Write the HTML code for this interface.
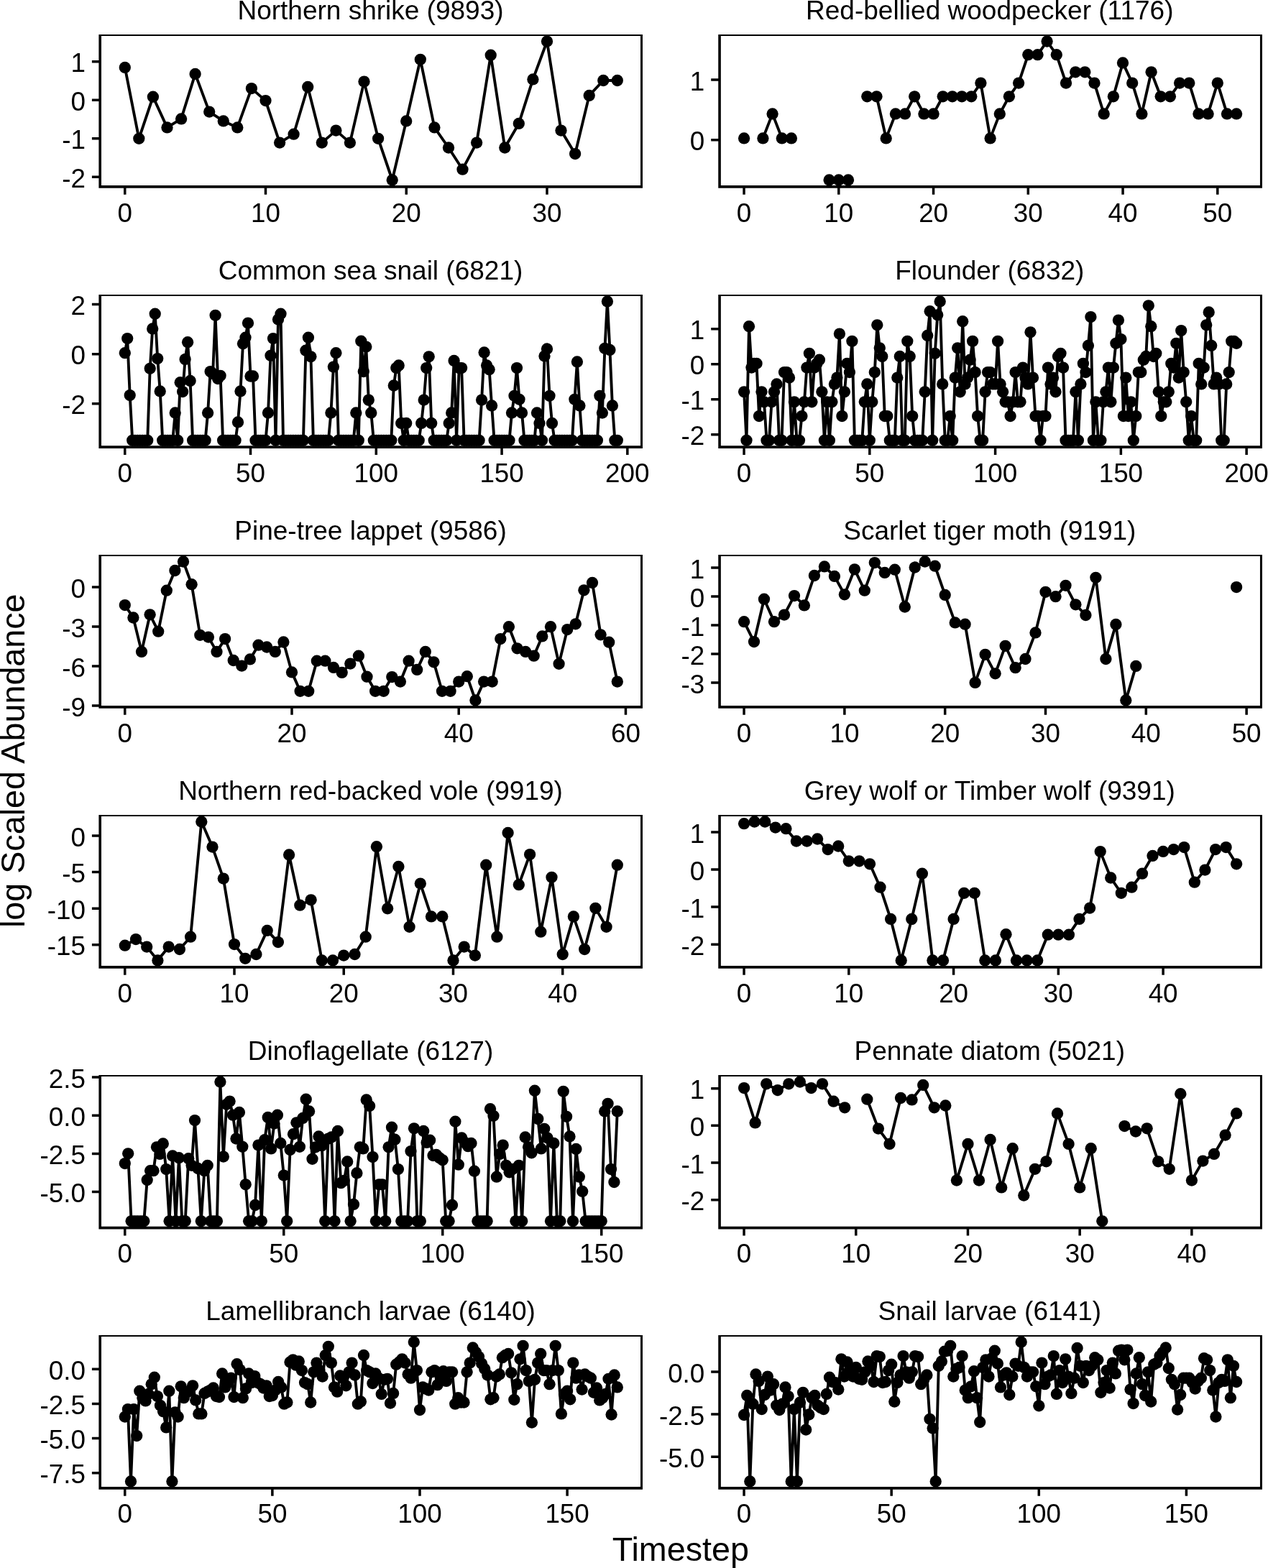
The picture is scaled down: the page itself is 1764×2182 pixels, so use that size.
<!DOCTYPE html>
<html lang="en"><head><meta charset="utf-8"><title>log Scaled Abundance by Timestep</title>
<style>
html,body{margin:0;padding:0;background:#fff;}
body{width:1764px;height:2182px;overflow:hidden;}
svg{display:block;}
text{font-family:"Liberation Sans",Arial,Helvetica,sans-serif;fill:#000;}
.tk{font-size:36.8px;}
.tt{font-size:37.0px;}
.ax{font-size:46.7px;}
.bd{fill:#000;stroke:none;fill-rule:evenodd;}
.ti{fill:none;stroke:#000;stroke-width:3.5;}
.ln{fill:none;stroke:#000;stroke-width:3.9;stroke-linejoin:round;stroke-linecap:butt;}
.pt{fill:#000;stroke:none;}
</style></head>
<body>
<svg xmlns="http://www.w3.org/2000/svg" width="1764" height="2182" viewBox="0 0 1764 2182">
<rect x="0" y="0" width="1764" height="2182" fill="#fff"/>
<g id="panel1">
<text class="tt" text-anchor="middle" x="515.5" y="26.7">Northern shrike (9893)</text>
<path class="ln" d="M173.8 93.9L193.3 192.8L212.9 134.7L232.5 177.4L252.1 165.4L271.6 102.9L291.2 155.6L310.8 168.4L330.3 177.4L349.9 123.1L369.5 140.1L389.1 198.6L408.6 186.7L428.2 121L447.8 198.6L467.4 181.6L486.9 198.6L506.5 113.6L526.1 192.8L545.7 250.5L565.2 168.4L584.8 82.8L604.4 177.4L624 205.5L643.5 235.7L663.1 198.6L682.7 76.7L702.3 205.5L721.8 171.9L741.4 110.4L761 57.5L780.5 181.6L800.1 214.1L819.7 132.9L839.3 112L858.8 112"/>
<g class="pt"><circle cx="173.8" cy="93.9" r="8.15"/><circle cx="193.3" cy="192.8" r="8.15"/><circle cx="212.9" cy="134.7" r="8.15"/><circle cx="232.5" cy="177.4" r="8.15"/><circle cx="252.1" cy="165.4" r="8.15"/><circle cx="271.6" cy="102.9" r="8.15"/><circle cx="291.2" cy="155.6" r="8.15"/><circle cx="310.8" cy="168.4" r="8.15"/><circle cx="330.3" cy="177.4" r="8.15"/><circle cx="349.9" cy="123.1" r="8.15"/><circle cx="369.5" cy="140.1" r="8.15"/><circle cx="389.1" cy="198.6" r="8.15"/><circle cx="408.6" cy="186.7" r="8.15"/><circle cx="428.2" cy="121" r="8.15"/><circle cx="447.8" cy="198.6" r="8.15"/><circle cx="467.4" cy="181.6" r="8.15"/><circle cx="486.9" cy="198.6" r="8.15"/><circle cx="506.5" cy="113.6" r="8.15"/><circle cx="526.1" cy="192.8" r="8.15"/><circle cx="545.7" cy="250.5" r="8.15"/><circle cx="565.2" cy="168.4" r="8.15"/><circle cx="584.8" cy="82.8" r="8.15"/><circle cx="604.4" cy="177.4" r="8.15"/><circle cx="624" cy="205.5" r="8.15"/><circle cx="643.5" cy="235.7" r="8.15"/><circle cx="663.1" cy="198.6" r="8.15"/><circle cx="682.7" cy="76.7" r="8.15"/><circle cx="702.3" cy="205.5" r="8.15"/><circle cx="721.8" cy="171.9" r="8.15"/><circle cx="741.4" cy="110.4" r="8.15"/><circle cx="761" cy="57.5" r="8.15"/><circle cx="780.5" cy="181.6" r="8.15"/><circle cx="800.1" cy="214.1" r="8.15"/><circle cx="819.7" cy="132.9" r="8.15"/><circle cx="839.3" cy="112" r="8.15"/><circle cx="858.8" cy="112" r="8.15"/></g>
<path class="bd" d="M137.4 48H894V261.7H137.4ZM141 50.1V258H891V50.1Z"/>
<path class="ti" d="M173.75 260.2V270.8M369.49 260.2V270.8M565.24 260.2V270.8M760.98 260.2V270.8M139.5 85.8H127.9M139.5 139.25H127.9M139.5 192.7H127.9M139.5 246.15H127.9"/>
<text class="tk" text-anchor="middle" x="173.8" y="308.7">0</text><text class="tk" text-anchor="middle" x="369.5" y="308.7">10</text><text class="tk" text-anchor="middle" x="565.2" y="308.7">20</text><text class="tk" text-anchor="middle" x="761" y="308.7">30</text>
<text class="tk" text-anchor="end" x="119" y="100.4">1</text><text class="tk" text-anchor="end" x="119" y="153.8">0</text><text class="tk" text-anchor="end" x="119" y="207.3">-1</text><text class="tk" text-anchor="end" x="119" y="260.8">-2</text>
</g>
<g id="panel2">
<text class="tt" text-anchor="middle" x="1376.8" y="26.7">Red-bellied woodpecker (1176)</text>
<path class="ln" d="M1035.1 192.4M1061.4 192.4L1074.6 158.4L1087.8 192.4L1100.9 192.4M1153.6 250.5L1166.8 250.5L1180 250.5M1206.3 134.3L1219.5 134.3L1232.7 192.4L1245.9 158.4L1259 158.4L1272.2 134.3L1285.4 158.4L1298.6 158.4L1311.7 134.3L1324.9 134.3L1338.1 134.3L1351.3 134.3L1364.4 115.6L1377.6 192.4L1390.8 158.4L1403.9 134.3L1417.1 115.6L1430.3 76.2L1443.5 76.2L1456.6 57.5L1469.8 76.2L1483 115.6L1496.2 100.3L1509.3 100.3L1522.5 115.6L1535.7 158.4L1548.9 134.3L1562 87.4L1575.2 115.6L1588.4 158.4L1601.6 100.3L1614.7 134.3L1627.9 134.3L1641.1 115.6L1654.3 115.6L1667.4 158.4L1680.6 158.4L1693.8 115.6L1707 158.4L1720.1 158.4"/>
<g class="pt"><circle cx="1035.1" cy="192.4" r="8.15"/><circle cx="1061.4" cy="192.4" r="8.15"/><circle cx="1074.6" cy="158.4" r="8.15"/><circle cx="1087.8" cy="192.4" r="8.15"/><circle cx="1100.9" cy="192.4" r="8.15"/><circle cx="1153.6" cy="250.5" r="8.15"/><circle cx="1166.8" cy="250.5" r="8.15"/><circle cx="1180" cy="250.5" r="8.15"/><circle cx="1206.3" cy="134.3" r="8.15"/><circle cx="1219.5" cy="134.3" r="8.15"/><circle cx="1232.7" cy="192.4" r="8.15"/><circle cx="1245.9" cy="158.4" r="8.15"/><circle cx="1259" cy="158.4" r="8.15"/><circle cx="1272.2" cy="134.3" r="8.15"/><circle cx="1285.4" cy="158.4" r="8.15"/><circle cx="1298.6" cy="158.4" r="8.15"/><circle cx="1311.7" cy="134.3" r="8.15"/><circle cx="1324.9" cy="134.3" r="8.15"/><circle cx="1338.1" cy="134.3" r="8.15"/><circle cx="1351.3" cy="134.3" r="8.15"/><circle cx="1364.4" cy="115.6" r="8.15"/><circle cx="1377.6" cy="192.4" r="8.15"/><circle cx="1390.8" cy="158.4" r="8.15"/><circle cx="1403.9" cy="134.3" r="8.15"/><circle cx="1417.1" cy="115.6" r="8.15"/><circle cx="1430.3" cy="76.2" r="8.15"/><circle cx="1443.5" cy="76.2" r="8.15"/><circle cx="1456.6" cy="57.5" r="8.15"/><circle cx="1469.8" cy="76.2" r="8.15"/><circle cx="1483" cy="115.6" r="8.15"/><circle cx="1496.2" cy="100.3" r="8.15"/><circle cx="1509.3" cy="100.3" r="8.15"/><circle cx="1522.5" cy="115.6" r="8.15"/><circle cx="1535.7" cy="158.4" r="8.15"/><circle cx="1548.9" cy="134.3" r="8.15"/><circle cx="1562" cy="87.4" r="8.15"/><circle cx="1575.2" cy="115.6" r="8.15"/><circle cx="1588.4" cy="158.4" r="8.15"/><circle cx="1601.6" cy="100.3" r="8.15"/><circle cx="1614.7" cy="134.3" r="8.15"/><circle cx="1627.9" cy="134.3" r="8.15"/><circle cx="1641.1" cy="115.6" r="8.15"/><circle cx="1654.3" cy="115.6" r="8.15"/><circle cx="1667.4" cy="158.4" r="8.15"/><circle cx="1680.6" cy="158.4" r="8.15"/><circle cx="1693.8" cy="115.6" r="8.15"/><circle cx="1707" cy="158.4" r="8.15"/><circle cx="1720.1" cy="158.4" r="8.15"/></g>
<path class="bd" d="M999.25 48H1755.95V261.7H999.25ZM1002.85 50.1V258H1752.95V50.1Z"/>
<path class="ti" d="M1035.05 260.2V270.8M1166.8 260.2V270.8M1298.55 260.2V270.8M1430.3 260.2V270.8M1562.05 260.2V270.8M1693.8 260.2V270.8M1000.8 110.9H989.2M1000.8 194.8H989.2"/>
<text class="tk" text-anchor="middle" x="1035.1" y="308.7">0</text><text class="tk" text-anchor="middle" x="1166.8" y="308.7">10</text><text class="tk" text-anchor="middle" x="1298.6" y="308.7">20</text><text class="tk" text-anchor="middle" x="1430.3" y="308.7">30</text><text class="tk" text-anchor="middle" x="1562" y="308.7">40</text><text class="tk" text-anchor="middle" x="1693.8" y="308.7">50</text>
<text class="tk" text-anchor="end" x="980.3" y="125.5">1</text><text class="tk" text-anchor="end" x="980.3" y="209.4">0</text>
</g>
<g id="panel3">
<text class="tt" text-anchor="middle" x="515.5" y="388.7">Common sea snail (6821)</text>
<path class="ln" d="M173.8 491.2L177.2 471.1L180.7 550.1L184.2 612.8L187.7 612.8L191.2 612.8L194.7 612.8L198.2 612.8L201.7 612.8L205.2 612.8L208.7 512.8L212.2 457.5L215.7 436.7L219.2 499.1L222.7 544.4L226.2 612.8L229.7 612.8L233.2 612.8L236.7 612.8L240.2 612.8L243.7 574.5L247.2 612.8L250.7 532.2L254.1 545.1L257.6 499.9L261.1 476.2L264.6 530L268.1 612.8L271.6 612.8L275.1 612.8L278.6 612.8L282.1 612.8L285.6 612.8L289.1 574.5L292.6 517.1L296.1 520L299.6 438.8L303.1 527.1L306.6 522.8L310.1 612.8L313.6 612.8L317.1 612.8L320.6 612.8L324.1 612.8L327.6 612.8L331 587.4L334.5 544.4L338 478.3L341.5 469.7L345 449.6L348.5 523.5L352 523.5L355.5 612.8L359 612.8L362.5 612.8L366 612.8L369.5 612.8L373 574.5L376.5 494.8L380 471.1L383.5 612.8L387 444.6L390.5 436.7L394 612.8L397.5 612.8L401 612.8L404.4 612.8L407.9 612.8L411.4 612.8L414.9 612.8L418.4 612.8L421.9 612.8L425.4 487.7L428.9 469.7L432.4 496.3L435.9 612.8L439.4 612.8L442.9 612.8L446.4 612.8L449.9 612.8L453.4 612.8L456.9 612.8L460.4 574.5L463.9 510.6L467.4 491.2L470.9 612.8L474.4 612.8L477.9 612.8L481.3 612.8L484.8 612.8L488.3 612.8L491.8 612.8L495.3 574.5L498.8 612.8L502.3 474.7L505.8 517.1L509.3 482.6L512.8 556.6L516.3 574.5L519.8 612.8L523.3 612.8L526.8 612.8L530.3 612.8L533.8 612.8L537.3 612.8L540.8 612.8L544.3 612.8L547.8 536.5L551.3 512.1L554.7 508.5L558.2 588.9L561.7 612.8L565.2 588.9L568.7 612.8L572.2 612.8L575.7 612.8L579.2 612.8L582.7 612.8L586.2 588.9L589.7 556.6L593.2 512.1L596.7 496.3L600.2 588.9L603.7 612.8L607.2 612.8L610.7 612.8L614.2 612.8L617.7 612.8L621.2 612.8L624.7 588.9L628.2 574.5L631.6 502L635.1 612.8L638.6 512.1L642.1 512.1L645.6 612.8L649.1 612.8L652.6 612.8L656.1 612.8L659.6 612.8L663.1 612.8L666.6 612.8L670.1 556.6L673.6 490.5L677.1 508.5L680.6 514.2L684.1 564.5L687.6 612.8L691.1 612.8L694.6 612.8L698.1 612.8L701.6 612.8L705 612.8L708.5 612.8L712 574.5L715.5 550.8L719 512.1L722.5 555.8L726 574.5L729.5 612.8L733 612.8L736.5 612.8L740 612.8L743.5 612.8L747 574.5L750.5 588.9L754 612.8L757.5 495.6L761 485.5L764.5 550.8L768 588.9L771.5 612.8L775 612.8L778.5 612.8L781.9 612.8L785.4 612.8L788.9 612.8L792.4 612.8L795.9 612.8L799.4 555.8L802.9 503.4L806.4 564.5L809.9 612.8L813.4 612.8L816.9 612.8L820.4 612.8L823.9 612.8L827.4 612.8L830.9 612.8L834.4 550.8L837.9 574.5L841.4 484.8L844.9 419.5L848.4 486.9L851.9 564.5L855.4 612.8L858.8 612.8"/>
<g class="pt"><circle cx="173.8" cy="491.2" r="8.15"/><circle cx="177.2" cy="471.1" r="8.15"/><circle cx="180.7" cy="550.1" r="8.15"/><circle cx="184.2" cy="612.8" r="8.15"/><circle cx="187.7" cy="612.8" r="8.15"/><circle cx="191.2" cy="612.8" r="8.15"/><circle cx="194.7" cy="612.8" r="8.15"/><circle cx="198.2" cy="612.8" r="8.15"/><circle cx="201.7" cy="612.8" r="8.15"/><circle cx="205.2" cy="612.8" r="8.15"/><circle cx="208.7" cy="512.8" r="8.15"/><circle cx="212.2" cy="457.5" r="8.15"/><circle cx="215.7" cy="436.7" r="8.15"/><circle cx="219.2" cy="499.1" r="8.15"/><circle cx="222.7" cy="544.4" r="8.15"/><circle cx="226.2" cy="612.8" r="8.15"/><circle cx="229.7" cy="612.8" r="8.15"/><circle cx="233.2" cy="612.8" r="8.15"/><circle cx="236.7" cy="612.8" r="8.15"/><circle cx="240.2" cy="612.8" r="8.15"/><circle cx="243.7" cy="574.5" r="8.15"/><circle cx="247.2" cy="612.8" r="8.15"/><circle cx="250.7" cy="532.2" r="8.15"/><circle cx="254.1" cy="545.1" r="8.15"/><circle cx="257.6" cy="499.9" r="8.15"/><circle cx="261.1" cy="476.2" r="8.15"/><circle cx="264.6" cy="530" r="8.15"/><circle cx="268.1" cy="612.8" r="8.15"/><circle cx="271.6" cy="612.8" r="8.15"/><circle cx="275.1" cy="612.8" r="8.15"/><circle cx="278.6" cy="612.8" r="8.15"/><circle cx="282.1" cy="612.8" r="8.15"/><circle cx="285.6" cy="612.8" r="8.15"/><circle cx="289.1" cy="574.5" r="8.15"/><circle cx="292.6" cy="517.1" r="8.15"/><circle cx="296.1" cy="520" r="8.15"/><circle cx="299.6" cy="438.8" r="8.15"/><circle cx="303.1" cy="527.1" r="8.15"/><circle cx="306.6" cy="522.8" r="8.15"/><circle cx="310.1" cy="612.8" r="8.15"/><circle cx="313.6" cy="612.8" r="8.15"/><circle cx="317.1" cy="612.8" r="8.15"/><circle cx="320.6" cy="612.8" r="8.15"/><circle cx="324.1" cy="612.8" r="8.15"/><circle cx="327.6" cy="612.8" r="8.15"/><circle cx="331" cy="587.4" r="8.15"/><circle cx="334.5" cy="544.4" r="8.15"/><circle cx="338" cy="478.3" r="8.15"/><circle cx="341.5" cy="469.7" r="8.15"/><circle cx="345" cy="449.6" r="8.15"/><circle cx="348.5" cy="523.5" r="8.15"/><circle cx="352" cy="523.5" r="8.15"/><circle cx="355.5" cy="612.8" r="8.15"/><circle cx="359" cy="612.8" r="8.15"/><circle cx="362.5" cy="612.8" r="8.15"/><circle cx="366" cy="612.8" r="8.15"/><circle cx="369.5" cy="612.8" r="8.15"/><circle cx="373" cy="574.5" r="8.15"/><circle cx="376.5" cy="494.8" r="8.15"/><circle cx="380" cy="471.1" r="8.15"/><circle cx="383.5" cy="612.8" r="8.15"/><circle cx="387" cy="444.6" r="8.15"/><circle cx="390.5" cy="436.7" r="8.15"/><circle cx="394" cy="612.8" r="8.15"/><circle cx="397.5" cy="612.8" r="8.15"/><circle cx="401" cy="612.8" r="8.15"/><circle cx="404.4" cy="612.8" r="8.15"/><circle cx="407.9" cy="612.8" r="8.15"/><circle cx="411.4" cy="612.8" r="8.15"/><circle cx="414.9" cy="612.8" r="8.15"/><circle cx="418.4" cy="612.8" r="8.15"/><circle cx="421.9" cy="612.8" r="8.15"/><circle cx="425.4" cy="487.7" r="8.15"/><circle cx="428.9" cy="469.7" r="8.15"/><circle cx="432.4" cy="496.3" r="8.15"/><circle cx="435.9" cy="612.8" r="8.15"/><circle cx="439.4" cy="612.8" r="8.15"/><circle cx="442.9" cy="612.8" r="8.15"/><circle cx="446.4" cy="612.8" r="8.15"/><circle cx="449.9" cy="612.8" r="8.15"/><circle cx="453.4" cy="612.8" r="8.15"/><circle cx="456.9" cy="612.8" r="8.15"/><circle cx="460.4" cy="574.5" r="8.15"/><circle cx="463.9" cy="510.6" r="8.15"/><circle cx="467.4" cy="491.2" r="8.15"/><circle cx="470.9" cy="612.8" r="8.15"/><circle cx="474.4" cy="612.8" r="8.15"/><circle cx="477.9" cy="612.8" r="8.15"/><circle cx="481.3" cy="612.8" r="8.15"/><circle cx="484.8" cy="612.8" r="8.15"/><circle cx="488.3" cy="612.8" r="8.15"/><circle cx="491.8" cy="612.8" r="8.15"/><circle cx="495.3" cy="574.5" r="8.15"/><circle cx="498.8" cy="612.8" r="8.15"/><circle cx="502.3" cy="474.7" r="8.15"/><circle cx="505.8" cy="517.1" r="8.15"/><circle cx="509.3" cy="482.6" r="8.15"/><circle cx="512.8" cy="556.6" r="8.15"/><circle cx="516.3" cy="574.5" r="8.15"/><circle cx="519.8" cy="612.8" r="8.15"/><circle cx="523.3" cy="612.8" r="8.15"/><circle cx="526.8" cy="612.8" r="8.15"/><circle cx="530.3" cy="612.8" r="8.15"/><circle cx="533.8" cy="612.8" r="8.15"/><circle cx="537.3" cy="612.8" r="8.15"/><circle cx="540.8" cy="612.8" r="8.15"/><circle cx="544.3" cy="612.8" r="8.15"/><circle cx="547.8" cy="536.5" r="8.15"/><circle cx="551.3" cy="512.1" r="8.15"/><circle cx="554.7" cy="508.5" r="8.15"/><circle cx="558.2" cy="588.9" r="8.15"/><circle cx="561.7" cy="612.8" r="8.15"/><circle cx="565.2" cy="588.9" r="8.15"/><circle cx="568.7" cy="612.8" r="8.15"/><circle cx="572.2" cy="612.8" r="8.15"/><circle cx="575.7" cy="612.8" r="8.15"/><circle cx="579.2" cy="612.8" r="8.15"/><circle cx="582.7" cy="612.8" r="8.15"/><circle cx="586.2" cy="588.9" r="8.15"/><circle cx="589.7" cy="556.6" r="8.15"/><circle cx="593.2" cy="512.1" r="8.15"/><circle cx="596.7" cy="496.3" r="8.15"/><circle cx="600.2" cy="588.9" r="8.15"/><circle cx="603.7" cy="612.8" r="8.15"/><circle cx="607.2" cy="612.8" r="8.15"/><circle cx="610.7" cy="612.8" r="8.15"/><circle cx="614.2" cy="612.8" r="8.15"/><circle cx="617.7" cy="612.8" r="8.15"/><circle cx="621.2" cy="612.8" r="8.15"/><circle cx="624.7" cy="588.9" r="8.15"/><circle cx="628.2" cy="574.5" r="8.15"/><circle cx="631.6" cy="502" r="8.15"/><circle cx="635.1" cy="612.8" r="8.15"/><circle cx="638.6" cy="512.1" r="8.15"/><circle cx="642.1" cy="512.1" r="8.15"/><circle cx="645.6" cy="612.8" r="8.15"/><circle cx="649.1" cy="612.8" r="8.15"/><circle cx="652.6" cy="612.8" r="8.15"/><circle cx="656.1" cy="612.8" r="8.15"/><circle cx="659.6" cy="612.8" r="8.15"/><circle cx="663.1" cy="612.8" r="8.15"/><circle cx="666.6" cy="612.8" r="8.15"/><circle cx="670.1" cy="556.6" r="8.15"/><circle cx="673.6" cy="490.5" r="8.15"/><circle cx="677.1" cy="508.5" r="8.15"/><circle cx="680.6" cy="514.2" r="8.15"/><circle cx="684.1" cy="564.5" r="8.15"/><circle cx="687.6" cy="612.8" r="8.15"/><circle cx="691.1" cy="612.8" r="8.15"/><circle cx="694.6" cy="612.8" r="8.15"/><circle cx="698.1" cy="612.8" r="8.15"/><circle cx="701.6" cy="612.8" r="8.15"/><circle cx="705" cy="612.8" r="8.15"/><circle cx="708.5" cy="612.8" r="8.15"/><circle cx="712" cy="574.5" r="8.15"/><circle cx="715.5" cy="550.8" r="8.15"/><circle cx="719" cy="512.1" r="8.15"/><circle cx="722.5" cy="555.8" r="8.15"/><circle cx="726" cy="574.5" r="8.15"/><circle cx="729.5" cy="612.8" r="8.15"/><circle cx="733" cy="612.8" r="8.15"/><circle cx="736.5" cy="612.8" r="8.15"/><circle cx="740" cy="612.8" r="8.15"/><circle cx="743.5" cy="612.8" r="8.15"/><circle cx="747" cy="574.5" r="8.15"/><circle cx="750.5" cy="588.9" r="8.15"/><circle cx="754" cy="612.8" r="8.15"/><circle cx="757.5" cy="495.6" r="8.15"/><circle cx="761" cy="485.5" r="8.15"/><circle cx="764.5" cy="550.8" r="8.15"/><circle cx="768" cy="588.9" r="8.15"/><circle cx="771.5" cy="612.8" r="8.15"/><circle cx="775" cy="612.8" r="8.15"/><circle cx="778.5" cy="612.8" r="8.15"/><circle cx="781.9" cy="612.8" r="8.15"/><circle cx="785.4" cy="612.8" r="8.15"/><circle cx="788.9" cy="612.8" r="8.15"/><circle cx="792.4" cy="612.8" r="8.15"/><circle cx="795.9" cy="612.8" r="8.15"/><circle cx="799.4" cy="555.8" r="8.15"/><circle cx="802.9" cy="503.4" r="8.15"/><circle cx="806.4" cy="564.5" r="8.15"/><circle cx="809.9" cy="612.8" r="8.15"/><circle cx="813.4" cy="612.8" r="8.15"/><circle cx="816.9" cy="612.8" r="8.15"/><circle cx="820.4" cy="612.8" r="8.15"/><circle cx="823.9" cy="612.8" r="8.15"/><circle cx="827.4" cy="612.8" r="8.15"/><circle cx="830.9" cy="612.8" r="8.15"/><circle cx="834.4" cy="550.8" r="8.15"/><circle cx="837.9" cy="574.5" r="8.15"/><circle cx="841.4" cy="484.8" r="8.15"/><circle cx="844.9" cy="419.5" r="8.15"/><circle cx="848.4" cy="486.9" r="8.15"/><circle cx="851.9" cy="564.5" r="8.15"/><circle cx="855.4" cy="612.8" r="8.15"/><circle cx="858.8" cy="612.8" r="8.15"/></g>
<path class="bd" d="M137.4 410H894V624H137.4ZM141 412.1V620.3H891V412.1Z"/>
<path class="ti" d="M173.75 622.5V633.1M348.52 622.5V633.1M523.29 622.5V633.1M698.06 622.5V633.1M872.83 622.5V633.1M139.5 423.6H127.9M139.5 492.7H127.9M139.5 561.8H127.9"/>
<text class="tk" text-anchor="middle" x="173.8" y="670.7">0</text><text class="tk" text-anchor="middle" x="348.5" y="670.7">50</text><text class="tk" text-anchor="middle" x="523.3" y="670.7">100</text><text class="tk" text-anchor="middle" x="698.1" y="670.7">150</text><text class="tk" text-anchor="middle" x="872.8" y="670.7">200</text>
<text class="tk" text-anchor="end" x="119" y="438.2">2</text><text class="tk" text-anchor="end" x="119" y="507.3">0</text><text class="tk" text-anchor="end" x="119" y="576.4">-2</text>
</g>
<g id="panel4">
<text class="tt" text-anchor="middle" x="1376.8" y="388.7">Flounder (6832)</text>
<path class="ln" d="M1035.1 545.3L1038.5 612.8L1042 454.2L1045.5 511.6L1049 505.8L1052.5 505.8L1056 579.1L1059.5 545.3L1063 559.3L1066.5 612.8L1070 612.8L1073.5 559.3L1077 545.3L1080.5 534.4L1084 612.8L1087.5 612.8L1091 518.1L1094.5 518.1L1098 525.6L1101.5 612.8L1105 559.3L1108.5 612.8L1112 612.8L1115.4 579.1L1118.9 559.3L1122.4 511.6L1125.9 491.8L1129.4 559.3L1132.9 511.6L1136.4 505.8L1139.9 500.7L1143.4 545.3L1146.9 612.8L1150.4 559.3L1153.9 612.8L1157.4 559.3L1160.9 534.4L1164.4 525.6L1167.9 464.6L1171.4 579.1L1174.9 545.3L1178.4 505.8L1181.9 518.1L1185.4 474.8L1188.9 612.8L1192.3 612.8L1195.8 612.8L1199.3 612.8L1202.8 559.3L1206.3 534.4L1209.8 612.8L1213.3 559.3L1216.8 518.1L1220.3 452.3L1223.8 484.3L1227.3 496L1230.8 579.1L1234.3 579.1L1237.8 612.8L1241.3 612.8L1244.8 612.8L1248.3 525.6L1251.8 496L1255.3 612.8L1258.8 612.8L1262.3 474.8L1265.7 496L1269.2 579.1L1272.7 612.8L1276.2 612.8L1279.7 612.8L1283.2 612.8L1286.7 545.3L1290.2 466.9L1293.7 433.2L1297.2 612.8L1300.7 491.8L1304.2 438.3L1307.7 419.5L1311.2 534.4L1314.7 612.8L1318.2 612.8L1321.7 579.1L1325.2 612.8L1328.7 525.6L1332.2 484.3L1335.7 545.3L1339.2 447.2L1342.6 534.4L1346.1 525.6L1349.6 500.7L1353.1 474.8L1356.6 518.1L1360.1 579.1L1363.6 612.8L1367.1 612.8L1370.6 545.3L1374.1 518.1L1377.6 518.1L1381.1 534.4L1384.6 534.4L1388.1 474.8L1391.6 534.4L1395.1 545.3L1398.6 559.3L1402.1 559.3L1405.6 579.1L1409.1 559.3L1412.6 518.1L1416 559.3L1419.5 559.3L1423 511.6L1426.5 525.6L1430 534.4L1433.5 462.3L1437 525.6L1440.5 579.1L1444 579.1L1447.5 612.8L1451 579.1L1454.5 579.1L1458 511.6L1461.5 534.4L1465 525.6L1468.5 545.3L1472 496L1475.5 491.8L1479 511.6L1482.5 612.8L1486 612.8L1489.5 612.8L1492.9 612.8L1496.4 545.3L1499.9 612.8L1503.4 534.4L1506.9 505.8L1510.4 518.1L1513.9 480.9L1517.4 441.1L1520.9 612.8L1524.4 559.3L1527.9 612.8L1531.4 612.8L1534.9 559.3L1538.4 545.3L1541.9 511.6L1545.4 559.3L1548.9 511.6L1552.4 477.8L1555.9 445.6L1559.4 472.1L1562.9 579.1L1566.3 525.6L1569.8 579.1L1573.3 559.3L1576.8 612.8L1580.3 579.1L1583.8 518.1L1587.3 518.1L1590.8 500.7L1594.3 496L1597.8 425.3L1601.3 454.2L1604.8 496L1608.3 491.8L1611.8 545.3L1615.3 579.1L1618.8 559.3L1622.3 559.3L1625.8 545.3L1629.3 505.8L1632.8 511.6L1636.3 477.8L1639.8 525.6L1643.2 460.1L1646.7 518.1L1650.2 559.3L1653.7 612.8L1657.2 579.1L1660.7 612.8L1664.2 612.8L1667.7 505.8L1671.2 534.4L1674.7 511.6L1678.2 452.3L1681.7 434.4L1685.2 480.9L1688.7 534.4L1692.2 525.6L1695.7 534.4L1699.2 612.8L1702.7 612.8L1706.2 534.4L1709.7 518.1L1713.2 474.8L1716.7 474.8L1720.1 477.8"/>
<g class="pt"><circle cx="1035.1" cy="545.3" r="8.15"/><circle cx="1038.5" cy="612.8" r="8.15"/><circle cx="1042" cy="454.2" r="8.15"/><circle cx="1045.5" cy="511.6" r="8.15"/><circle cx="1049" cy="505.8" r="8.15"/><circle cx="1052.5" cy="505.8" r="8.15"/><circle cx="1056" cy="579.1" r="8.15"/><circle cx="1059.5" cy="545.3" r="8.15"/><circle cx="1063" cy="559.3" r="8.15"/><circle cx="1066.5" cy="612.8" r="8.15"/><circle cx="1070" cy="612.8" r="8.15"/><circle cx="1073.5" cy="559.3" r="8.15"/><circle cx="1077" cy="545.3" r="8.15"/><circle cx="1080.5" cy="534.4" r="8.15"/><circle cx="1084" cy="612.8" r="8.15"/><circle cx="1087.5" cy="612.8" r="8.15"/><circle cx="1091" cy="518.1" r="8.15"/><circle cx="1094.5" cy="518.1" r="8.15"/><circle cx="1098" cy="525.6" r="8.15"/><circle cx="1101.5" cy="612.8" r="8.15"/><circle cx="1105" cy="559.3" r="8.15"/><circle cx="1108.5" cy="612.8" r="8.15"/><circle cx="1112" cy="612.8" r="8.15"/><circle cx="1115.4" cy="579.1" r="8.15"/><circle cx="1118.9" cy="559.3" r="8.15"/><circle cx="1122.4" cy="511.6" r="8.15"/><circle cx="1125.9" cy="491.8" r="8.15"/><circle cx="1129.4" cy="559.3" r="8.15"/><circle cx="1132.9" cy="511.6" r="8.15"/><circle cx="1136.4" cy="505.8" r="8.15"/><circle cx="1139.9" cy="500.7" r="8.15"/><circle cx="1143.4" cy="545.3" r="8.15"/><circle cx="1146.9" cy="612.8" r="8.15"/><circle cx="1150.4" cy="559.3" r="8.15"/><circle cx="1153.9" cy="612.8" r="8.15"/><circle cx="1157.4" cy="559.3" r="8.15"/><circle cx="1160.9" cy="534.4" r="8.15"/><circle cx="1164.4" cy="525.6" r="8.15"/><circle cx="1167.9" cy="464.6" r="8.15"/><circle cx="1171.4" cy="579.1" r="8.15"/><circle cx="1174.9" cy="545.3" r="8.15"/><circle cx="1178.4" cy="505.8" r="8.15"/><circle cx="1181.9" cy="518.1" r="8.15"/><circle cx="1185.4" cy="474.8" r="8.15"/><circle cx="1188.9" cy="612.8" r="8.15"/><circle cx="1192.3" cy="612.8" r="8.15"/><circle cx="1195.8" cy="612.8" r="8.15"/><circle cx="1199.3" cy="612.8" r="8.15"/><circle cx="1202.8" cy="559.3" r="8.15"/><circle cx="1206.3" cy="534.4" r="8.15"/><circle cx="1209.8" cy="612.8" r="8.15"/><circle cx="1213.3" cy="559.3" r="8.15"/><circle cx="1216.8" cy="518.1" r="8.15"/><circle cx="1220.3" cy="452.3" r="8.15"/><circle cx="1223.8" cy="484.3" r="8.15"/><circle cx="1227.3" cy="496" r="8.15"/><circle cx="1230.8" cy="579.1" r="8.15"/><circle cx="1234.3" cy="579.1" r="8.15"/><circle cx="1237.8" cy="612.8" r="8.15"/><circle cx="1241.3" cy="612.8" r="8.15"/><circle cx="1244.8" cy="612.8" r="8.15"/><circle cx="1248.3" cy="525.6" r="8.15"/><circle cx="1251.8" cy="496" r="8.15"/><circle cx="1255.3" cy="612.8" r="8.15"/><circle cx="1258.8" cy="612.8" r="8.15"/><circle cx="1262.3" cy="474.8" r="8.15"/><circle cx="1265.7" cy="496" r="8.15"/><circle cx="1269.2" cy="579.1" r="8.15"/><circle cx="1272.7" cy="612.8" r="8.15"/><circle cx="1276.2" cy="612.8" r="8.15"/><circle cx="1279.7" cy="612.8" r="8.15"/><circle cx="1283.2" cy="612.8" r="8.15"/><circle cx="1286.7" cy="545.3" r="8.15"/><circle cx="1290.2" cy="466.9" r="8.15"/><circle cx="1293.7" cy="433.2" r="8.15"/><circle cx="1297.2" cy="612.8" r="8.15"/><circle cx="1300.7" cy="491.8" r="8.15"/><circle cx="1304.2" cy="438.3" r="8.15"/><circle cx="1307.7" cy="419.5" r="8.15"/><circle cx="1311.2" cy="534.4" r="8.15"/><circle cx="1314.7" cy="612.8" r="8.15"/><circle cx="1318.2" cy="612.8" r="8.15"/><circle cx="1321.7" cy="579.1" r="8.15"/><circle cx="1325.2" cy="612.8" r="8.15"/><circle cx="1328.7" cy="525.6" r="8.15"/><circle cx="1332.2" cy="484.3" r="8.15"/><circle cx="1335.7" cy="545.3" r="8.15"/><circle cx="1339.2" cy="447.2" r="8.15"/><circle cx="1342.6" cy="534.4" r="8.15"/><circle cx="1346.1" cy="525.6" r="8.15"/><circle cx="1349.6" cy="500.7" r="8.15"/><circle cx="1353.1" cy="474.8" r="8.15"/><circle cx="1356.6" cy="518.1" r="8.15"/><circle cx="1360.1" cy="579.1" r="8.15"/><circle cx="1363.6" cy="612.8" r="8.15"/><circle cx="1367.1" cy="612.8" r="8.15"/><circle cx="1370.6" cy="545.3" r="8.15"/><circle cx="1374.1" cy="518.1" r="8.15"/><circle cx="1377.6" cy="518.1" r="8.15"/><circle cx="1381.1" cy="534.4" r="8.15"/><circle cx="1384.6" cy="534.4" r="8.15"/><circle cx="1388.1" cy="474.8" r="8.15"/><circle cx="1391.6" cy="534.4" r="8.15"/><circle cx="1395.1" cy="545.3" r="8.15"/><circle cx="1398.6" cy="559.3" r="8.15"/><circle cx="1402.1" cy="559.3" r="8.15"/><circle cx="1405.6" cy="579.1" r="8.15"/><circle cx="1409.1" cy="559.3" r="8.15"/><circle cx="1412.6" cy="518.1" r="8.15"/><circle cx="1416" cy="559.3" r="8.15"/><circle cx="1419.5" cy="559.3" r="8.15"/><circle cx="1423" cy="511.6" r="8.15"/><circle cx="1426.5" cy="525.6" r="8.15"/><circle cx="1430" cy="534.4" r="8.15"/><circle cx="1433.5" cy="462.3" r="8.15"/><circle cx="1437" cy="525.6" r="8.15"/><circle cx="1440.5" cy="579.1" r="8.15"/><circle cx="1444" cy="579.1" r="8.15"/><circle cx="1447.5" cy="612.8" r="8.15"/><circle cx="1451" cy="579.1" r="8.15"/><circle cx="1454.5" cy="579.1" r="8.15"/><circle cx="1458" cy="511.6" r="8.15"/><circle cx="1461.5" cy="534.4" r="8.15"/><circle cx="1465" cy="525.6" r="8.15"/><circle cx="1468.5" cy="545.3" r="8.15"/><circle cx="1472" cy="496" r="8.15"/><circle cx="1475.5" cy="491.8" r="8.15"/><circle cx="1479" cy="511.6" r="8.15"/><circle cx="1482.5" cy="612.8" r="8.15"/><circle cx="1486" cy="612.8" r="8.15"/><circle cx="1489.5" cy="612.8" r="8.15"/><circle cx="1492.9" cy="612.8" r="8.15"/><circle cx="1496.4" cy="545.3" r="8.15"/><circle cx="1499.9" cy="612.8" r="8.15"/><circle cx="1503.4" cy="534.4" r="8.15"/><circle cx="1506.9" cy="505.8" r="8.15"/><circle cx="1510.4" cy="518.1" r="8.15"/><circle cx="1513.9" cy="480.9" r="8.15"/><circle cx="1517.4" cy="441.1" r="8.15"/><circle cx="1520.9" cy="612.8" r="8.15"/><circle cx="1524.4" cy="559.3" r="8.15"/><circle cx="1527.9" cy="612.8" r="8.15"/><circle cx="1531.4" cy="612.8" r="8.15"/><circle cx="1534.9" cy="559.3" r="8.15"/><circle cx="1538.4" cy="545.3" r="8.15"/><circle cx="1541.9" cy="511.6" r="8.15"/><circle cx="1545.4" cy="559.3" r="8.15"/><circle cx="1548.9" cy="511.6" r="8.15"/><circle cx="1552.4" cy="477.8" r="8.15"/><circle cx="1555.9" cy="445.6" r="8.15"/><circle cx="1559.4" cy="472.1" r="8.15"/><circle cx="1562.9" cy="579.1" r="8.15"/><circle cx="1566.3" cy="525.6" r="8.15"/><circle cx="1569.8" cy="579.1" r="8.15"/><circle cx="1573.3" cy="559.3" r="8.15"/><circle cx="1576.8" cy="612.8" r="8.15"/><circle cx="1580.3" cy="579.1" r="8.15"/><circle cx="1583.8" cy="518.1" r="8.15"/><circle cx="1587.3" cy="518.1" r="8.15"/><circle cx="1590.8" cy="500.7" r="8.15"/><circle cx="1594.3" cy="496" r="8.15"/><circle cx="1597.8" cy="425.3" r="8.15"/><circle cx="1601.3" cy="454.2" r="8.15"/><circle cx="1604.8" cy="496" r="8.15"/><circle cx="1608.3" cy="491.8" r="8.15"/><circle cx="1611.8" cy="545.3" r="8.15"/><circle cx="1615.3" cy="579.1" r="8.15"/><circle cx="1618.8" cy="559.3" r="8.15"/><circle cx="1622.3" cy="559.3" r="8.15"/><circle cx="1625.8" cy="545.3" r="8.15"/><circle cx="1629.3" cy="505.8" r="8.15"/><circle cx="1632.8" cy="511.6" r="8.15"/><circle cx="1636.3" cy="477.8" r="8.15"/><circle cx="1639.8" cy="525.6" r="8.15"/><circle cx="1643.2" cy="460.1" r="8.15"/><circle cx="1646.7" cy="518.1" r="8.15"/><circle cx="1650.2" cy="559.3" r="8.15"/><circle cx="1653.7" cy="612.8" r="8.15"/><circle cx="1657.2" cy="579.1" r="8.15"/><circle cx="1660.7" cy="612.8" r="8.15"/><circle cx="1664.2" cy="612.8" r="8.15"/><circle cx="1667.7" cy="505.8" r="8.15"/><circle cx="1671.2" cy="534.4" r="8.15"/><circle cx="1674.7" cy="511.6" r="8.15"/><circle cx="1678.2" cy="452.3" r="8.15"/><circle cx="1681.7" cy="434.4" r="8.15"/><circle cx="1685.2" cy="480.9" r="8.15"/><circle cx="1688.7" cy="534.4" r="8.15"/><circle cx="1692.2" cy="525.6" r="8.15"/><circle cx="1695.7" cy="534.4" r="8.15"/><circle cx="1699.2" cy="612.8" r="8.15"/><circle cx="1702.7" cy="612.8" r="8.15"/><circle cx="1706.2" cy="534.4" r="8.15"/><circle cx="1709.7" cy="518.1" r="8.15"/><circle cx="1713.2" cy="474.8" r="8.15"/><circle cx="1716.7" cy="474.8" r="8.15"/><circle cx="1720.1" cy="477.8" r="8.15"/></g>
<path class="bd" d="M999.25 410H1755.95V624H999.25ZM1002.85 412.1V620.3H1752.95V412.1Z"/>
<path class="ti" d="M1035.05 622.5V633.1M1209.82 622.5V633.1M1384.59 622.5V633.1M1559.36 622.5V633.1M1734.13 622.5V633.1M1000.8 457.7H989.2M1000.8 506.75H989.2M1000.8 555.8H989.2M1000.8 604.8H989.2"/>
<text class="tk" text-anchor="middle" x="1035.1" y="670.7">0</text><text class="tk" text-anchor="middle" x="1209.8" y="670.7">50</text><text class="tk" text-anchor="middle" x="1384.6" y="670.7">100</text><text class="tk" text-anchor="middle" x="1559.4" y="670.7">150</text><text class="tk" text-anchor="middle" x="1734.1" y="670.7">200</text>
<text class="tk" text-anchor="end" x="980.3" y="472.3">1</text><text class="tk" text-anchor="end" x="980.3" y="521.4">0</text><text class="tk" text-anchor="end" x="980.3" y="570.4">-1</text><text class="tk" text-anchor="end" x="980.3" y="619.4">-2</text>
</g>
<g id="panel5">
<text class="tt" text-anchor="middle" x="515.5" y="750.7">Pine-tree lappet (9586)</text>
<path class="ln" d="M173.8 842.1L185.4 859.5L197 906.9L208.6 855.3L220.2 878.7L231.8 821.7L243.4 794L255 781.5L266.6 813.2L278.3 883.8L289.9 886.6L301.5 906.9L313.1 889.1L324.7 919L336.3 926.6L347.9 917.4L359.5 897.7L371.2 900.5L382.8 906.9L394.4 893.5L406 935.4L417.6 961.8L429.2 961.8L440.8 919.7L452.4 919.7L464 928.9L475.7 935.9L487.3 923.6L498.9 912.7L510.5 941.7L522.1 961.8L533.7 961.8L545.3 942.1L556.9 948.6L568.6 919.7L580.2 931.9L591.8 906.9L603.4 921.3L615 961.8L626.6 961.8L638.2 948.6L649.8 941.2L661.4 974.5L673.1 948.6L684.7 948.6L696.3 889.1L707.9 872.2L719.5 902.3L731.1 906.9L742.7 912.7L754.3 885.4L766 872.2L777.6 923.8L789.2 876.1L800.8 868.3L812.4 821.3L824 810.9L835.6 883.3L847.2 893.7L858.8 948.6"/>
<g class="pt"><circle cx="173.8" cy="842.1" r="8.15"/><circle cx="185.4" cy="859.5" r="8.15"/><circle cx="197" cy="906.9" r="8.15"/><circle cx="208.6" cy="855.3" r="8.15"/><circle cx="220.2" cy="878.7" r="8.15"/><circle cx="231.8" cy="821.7" r="8.15"/><circle cx="243.4" cy="794" r="8.15"/><circle cx="255" cy="781.5" r="8.15"/><circle cx="266.6" cy="813.2" r="8.15"/><circle cx="278.3" cy="883.8" r="8.15"/><circle cx="289.9" cy="886.6" r="8.15"/><circle cx="301.5" cy="906.9" r="8.15"/><circle cx="313.1" cy="889.1" r="8.15"/><circle cx="324.7" cy="919" r="8.15"/><circle cx="336.3" cy="926.6" r="8.15"/><circle cx="347.9" cy="917.4" r="8.15"/><circle cx="359.5" cy="897.7" r="8.15"/><circle cx="371.2" cy="900.5" r="8.15"/><circle cx="382.8" cy="906.9" r="8.15"/><circle cx="394.4" cy="893.5" r="8.15"/><circle cx="406" cy="935.4" r="8.15"/><circle cx="417.6" cy="961.8" r="8.15"/><circle cx="429.2" cy="961.8" r="8.15"/><circle cx="440.8" cy="919.7" r="8.15"/><circle cx="452.4" cy="919.7" r="8.15"/><circle cx="464" cy="928.9" r="8.15"/><circle cx="475.7" cy="935.9" r="8.15"/><circle cx="487.3" cy="923.6" r="8.15"/><circle cx="498.9" cy="912.7" r="8.15"/><circle cx="510.5" cy="941.7" r="8.15"/><circle cx="522.1" cy="961.8" r="8.15"/><circle cx="533.7" cy="961.8" r="8.15"/><circle cx="545.3" cy="942.1" r="8.15"/><circle cx="556.9" cy="948.6" r="8.15"/><circle cx="568.6" cy="919.7" r="8.15"/><circle cx="580.2" cy="931.9" r="8.15"/><circle cx="591.8" cy="906.9" r="8.15"/><circle cx="603.4" cy="921.3" r="8.15"/><circle cx="615" cy="961.8" r="8.15"/><circle cx="626.6" cy="961.8" r="8.15"/><circle cx="638.2" cy="948.6" r="8.15"/><circle cx="649.8" cy="941.2" r="8.15"/><circle cx="661.4" cy="974.5" r="8.15"/><circle cx="673.1" cy="948.6" r="8.15"/><circle cx="684.7" cy="948.6" r="8.15"/><circle cx="696.3" cy="889.1" r="8.15"/><circle cx="707.9" cy="872.2" r="8.15"/><circle cx="719.5" cy="902.3" r="8.15"/><circle cx="731.1" cy="906.9" r="8.15"/><circle cx="742.7" cy="912.7" r="8.15"/><circle cx="754.3" cy="885.4" r="8.15"/><circle cx="766" cy="872.2" r="8.15"/><circle cx="777.6" cy="923.8" r="8.15"/><circle cx="789.2" cy="876.1" r="8.15"/><circle cx="800.8" cy="868.3" r="8.15"/><circle cx="812.4" cy="821.3" r="8.15"/><circle cx="824" cy="810.9" r="8.15"/><circle cx="835.6" cy="883.3" r="8.15"/><circle cx="847.2" cy="893.7" r="8.15"/><circle cx="858.8" cy="948.6" r="8.15"/></g>
<path class="bd" d="M137.4 772H894V985.7H137.4ZM141 774.1V982H891V774.1Z"/>
<path class="ti" d="M173.75 984.2V994.8M405.99 984.2V994.8M638.22 984.2V994.8M870.46 984.2V994.8M139.5 817H127.9M139.5 872H127.9M139.5 927H127.9M139.5 982H127.9"/>
<text class="tk" text-anchor="middle" x="173.8" y="1032.7">0</text><text class="tk" text-anchor="middle" x="406" y="1032.7">20</text><text class="tk" text-anchor="middle" x="638.2" y="1032.7">40</text><text class="tk" text-anchor="middle" x="870.5" y="1032.7">60</text>
<text class="tk" text-anchor="end" x="119" y="831.6">0</text><text class="tk" text-anchor="end" x="119" y="886.6">-3</text><text class="tk" text-anchor="end" x="119" y="941.6">-6</text><text class="tk" text-anchor="end" x="119" y="996.6">-9</text>
</g>
<g id="panel6">
<text class="tt" text-anchor="middle" x="1376.8" y="750.7">Scarlet tiger moth (9191)</text>
<path class="ln" d="M1035.1 865.2L1049 893.1L1063 833.7L1077 865.2L1091 855.6L1105 829.1L1118.9 842.4L1132.9 801L1146.9 788.4L1160.9 801.9L1174.9 827.3L1188.9 792.3L1202.8 821.7L1216.8 783.1L1230.8 796.9L1244.8 792.7L1258.8 844.5L1272.7 789.5L1286.7 781.5L1300.7 787.7L1314.7 827.9L1328.7 866.4L1342.6 868.7L1356.6 949.9L1370.6 910.8L1384.6 937.3L1398.6 898.8L1412.6 929.2L1426.5 917L1440.5 880.4L1454.5 823.8L1468.5 830.2L1482.5 814.8L1496.4 841.3L1510.4 856L1524.4 803.8L1538.4 917L1552.4 868.9L1566.3 974.5L1580.3 926.9M1720.1 817.1"/>
<g class="pt"><circle cx="1035.1" cy="865.2" r="8.15"/><circle cx="1049" cy="893.1" r="8.15"/><circle cx="1063" cy="833.7" r="8.15"/><circle cx="1077" cy="865.2" r="8.15"/><circle cx="1091" cy="855.6" r="8.15"/><circle cx="1105" cy="829.1" r="8.15"/><circle cx="1118.9" cy="842.4" r="8.15"/><circle cx="1132.9" cy="801" r="8.15"/><circle cx="1146.9" cy="788.4" r="8.15"/><circle cx="1160.9" cy="801.9" r="8.15"/><circle cx="1174.9" cy="827.3" r="8.15"/><circle cx="1188.9" cy="792.3" r="8.15"/><circle cx="1202.8" cy="821.7" r="8.15"/><circle cx="1216.8" cy="783.1" r="8.15"/><circle cx="1230.8" cy="796.9" r="8.15"/><circle cx="1244.8" cy="792.7" r="8.15"/><circle cx="1258.8" cy="844.5" r="8.15"/><circle cx="1272.7" cy="789.5" r="8.15"/><circle cx="1286.7" cy="781.5" r="8.15"/><circle cx="1300.7" cy="787.7" r="8.15"/><circle cx="1314.7" cy="827.9" r="8.15"/><circle cx="1328.7" cy="866.4" r="8.15"/><circle cx="1342.6" cy="868.7" r="8.15"/><circle cx="1356.6" cy="949.9" r="8.15"/><circle cx="1370.6" cy="910.8" r="8.15"/><circle cx="1384.6" cy="937.3" r="8.15"/><circle cx="1398.6" cy="898.8" r="8.15"/><circle cx="1412.6" cy="929.2" r="8.15"/><circle cx="1426.5" cy="917" r="8.15"/><circle cx="1440.5" cy="880.4" r="8.15"/><circle cx="1454.5" cy="823.8" r="8.15"/><circle cx="1468.5" cy="830.2" r="8.15"/><circle cx="1482.5" cy="814.8" r="8.15"/><circle cx="1496.4" cy="841.3" r="8.15"/><circle cx="1510.4" cy="856" r="8.15"/><circle cx="1524.4" cy="803.8" r="8.15"/><circle cx="1538.4" cy="917" r="8.15"/><circle cx="1552.4" cy="868.9" r="8.15"/><circle cx="1566.3" cy="974.5" r="8.15"/><circle cx="1580.3" cy="926.9" r="8.15"/><circle cx="1720.1" cy="817.1" r="8.15"/></g>
<path class="bd" d="M999.25 772H1755.95V985.7H999.25ZM1002.85 774.1V982H1752.95V774.1Z"/>
<path class="ti" d="M1035.05 984.2V994.8M1174.87 984.2V994.8M1314.68 984.2V994.8M1454.5 984.2V994.8M1594.31 984.2V994.8M1734.13 984.2V994.8M1000.8 789.9H989.2M1000.8 829.9H989.2M1000.8 869.9H989.2M1000.8 909.9H989.2M1000.8 949.9H989.2"/>
<text class="tk" text-anchor="middle" x="1035.1" y="1032.7">0</text><text class="tk" text-anchor="middle" x="1174.9" y="1032.7">10</text><text class="tk" text-anchor="middle" x="1314.7" y="1032.7">20</text><text class="tk" text-anchor="middle" x="1454.5" y="1032.7">30</text><text class="tk" text-anchor="middle" x="1594.3" y="1032.7">40</text><text class="tk" text-anchor="middle" x="1734.1" y="1032.7">50</text>
<text class="tk" text-anchor="end" x="980.3" y="804.5">1</text><text class="tk" text-anchor="end" x="980.3" y="844.5">0</text><text class="tk" text-anchor="end" x="980.3" y="884.5">-1</text><text class="tk" text-anchor="end" x="980.3" y="924.5">-2</text><text class="tk" text-anchor="end" x="980.3" y="964.5">-3</text>
</g>
<g id="panel7">
<text class="tt" text-anchor="middle" x="515.5" y="1112.7">Northern red-backed vole (9919)</text>
<path class="ln" d="M173.8 1315.7L189 1307.1L204.2 1317.6L219.4 1336.5L234.7 1317.6L249.9 1321L265.1 1303.7L280.3 1143.5L295.5 1178.6L310.8 1222.6L326 1314.1L341.2 1333.8L356.4 1328L371.7 1294.9L386.9 1311.1L402.1 1189.5L417.3 1259.7L432.6 1252.3L447.8 1336.5L463 1336.5L478.2 1329.6L493.5 1328L508.7 1303.7L523.9 1178.2L539.1 1264.3L554.4 1206L569.6 1289.8L584.8 1229.6L600 1275.4L615.3 1275.4L630.5 1336.5L645.7 1317.6L660.9 1329.6L676.2 1203.7L691.4 1303.7L706.6 1159L721.8 1231.2L737.1 1189.1L752.3 1296.7L767.5 1220.8L782.7 1328L797.9 1275.4L813.2 1321L828.4 1263.8L843.6 1289.8L858.8 1203.7"/>
<g class="pt"><circle cx="173.8" cy="1315.7" r="8.15"/><circle cx="189" cy="1307.1" r="8.15"/><circle cx="204.2" cy="1317.6" r="8.15"/><circle cx="219.4" cy="1336.5" r="8.15"/><circle cx="234.7" cy="1317.6" r="8.15"/><circle cx="249.9" cy="1321" r="8.15"/><circle cx="265.1" cy="1303.7" r="8.15"/><circle cx="280.3" cy="1143.5" r="8.15"/><circle cx="295.5" cy="1178.6" r="8.15"/><circle cx="310.8" cy="1222.6" r="8.15"/><circle cx="326" cy="1314.1" r="8.15"/><circle cx="341.2" cy="1333.8" r="8.15"/><circle cx="356.4" cy="1328" r="8.15"/><circle cx="371.7" cy="1294.9" r="8.15"/><circle cx="386.9" cy="1311.1" r="8.15"/><circle cx="402.1" cy="1189.5" r="8.15"/><circle cx="417.3" cy="1259.7" r="8.15"/><circle cx="432.6" cy="1252.3" r="8.15"/><circle cx="447.8" cy="1336.5" r="8.15"/><circle cx="463" cy="1336.5" r="8.15"/><circle cx="478.2" cy="1329.6" r="8.15"/><circle cx="493.5" cy="1328" r="8.15"/><circle cx="508.7" cy="1303.7" r="8.15"/><circle cx="523.9" cy="1178.2" r="8.15"/><circle cx="539.1" cy="1264.3" r="8.15"/><circle cx="554.4" cy="1206" r="8.15"/><circle cx="569.6" cy="1289.8" r="8.15"/><circle cx="584.8" cy="1229.6" r="8.15"/><circle cx="600" cy="1275.4" r="8.15"/><circle cx="615.3" cy="1275.4" r="8.15"/><circle cx="630.5" cy="1336.5" r="8.15"/><circle cx="645.7" cy="1317.6" r="8.15"/><circle cx="660.9" cy="1329.6" r="8.15"/><circle cx="676.2" cy="1203.7" r="8.15"/><circle cx="691.4" cy="1303.7" r="8.15"/><circle cx="706.6" cy="1159" r="8.15"/><circle cx="721.8" cy="1231.2" r="8.15"/><circle cx="737.1" cy="1189.1" r="8.15"/><circle cx="752.3" cy="1296.7" r="8.15"/><circle cx="767.5" cy="1220.8" r="8.15"/><circle cx="782.7" cy="1328" r="8.15"/><circle cx="797.9" cy="1275.4" r="8.15"/><circle cx="813.2" cy="1321" r="8.15"/><circle cx="828.4" cy="1263.8" r="8.15"/><circle cx="843.6" cy="1289.8" r="8.15"/><circle cx="858.8" cy="1203.7" r="8.15"/></g>
<path class="bd" d="M137.4 1134H894V1347.7H137.4ZM141 1136.1V1344H891V1136.1Z"/>
<path class="ti" d="M173.75 1346.2V1356.8M326 1346.2V1356.8M478.24 1346.2V1356.8M630.48 1346.2V1356.8M782.72 1346.2V1356.8M139.5 1162.95H127.9M139.5 1213.55H127.9M139.5 1264.15H127.9M139.5 1314.75H127.9"/>
<text class="tk" text-anchor="middle" x="173.8" y="1394.7">0</text><text class="tk" text-anchor="middle" x="326" y="1394.7">10</text><text class="tk" text-anchor="middle" x="478.2" y="1394.7">20</text><text class="tk" text-anchor="middle" x="630.5" y="1394.7">30</text><text class="tk" text-anchor="middle" x="782.7" y="1394.7">40</text>
<text class="tk" text-anchor="end" x="119" y="1177.5">0</text><text class="tk" text-anchor="end" x="119" y="1228.1">-5</text><text class="tk" text-anchor="end" x="119" y="1278.8">-10</text><text class="tk" text-anchor="end" x="119" y="1329.3">-15</text>
</g>
<g id="panel8">
<text class="tt" text-anchor="middle" x="1376.8" y="1112.7">Grey wolf or Timber wolf (9391)</text>
<path class="ln" d="M1035.1 1146.2L1049.6 1143.5L1064.2 1143.5L1078.8 1151.6L1093.4 1153.2L1107.9 1170.5L1122.5 1170.5L1137.1 1167.5L1151.7 1182.1L1166.2 1177.5L1180.8 1198.3L1195.4 1198.3L1210 1202.3L1224.5 1234.7L1239.1 1278.9L1253.7 1336.5L1268.3 1278.9L1282.9 1215.7L1297.4 1336.5L1312 1336.5L1326.6 1278.9L1341.2 1242.8L1355.7 1242.8L1370.3 1336.5L1384.9 1336.5L1399.5 1300.2L1414 1336.5L1428.6 1336.5L1443.2 1336.5L1457.8 1300.7L1472.3 1300.7L1486.9 1300.7L1501.5 1278.9L1516.1 1263.6L1530.7 1185.1L1545.2 1221.5L1559.8 1242.8L1574.4 1234.7L1589 1215.7L1603.5 1190.9L1618.1 1184.9L1632.7 1182.1L1647.3 1179.1L1661.8 1227.7L1676.4 1210.6L1691 1182.1L1705.6 1179.1L1720.1 1202.3"/>
<g class="pt"><circle cx="1035.1" cy="1146.2" r="8.15"/><circle cx="1049.6" cy="1143.5" r="8.15"/><circle cx="1064.2" cy="1143.5" r="8.15"/><circle cx="1078.8" cy="1151.6" r="8.15"/><circle cx="1093.4" cy="1153.2" r="8.15"/><circle cx="1107.9" cy="1170.5" r="8.15"/><circle cx="1122.5" cy="1170.5" r="8.15"/><circle cx="1137.1" cy="1167.5" r="8.15"/><circle cx="1151.7" cy="1182.1" r="8.15"/><circle cx="1166.2" cy="1177.5" r="8.15"/><circle cx="1180.8" cy="1198.3" r="8.15"/><circle cx="1195.4" cy="1198.3" r="8.15"/><circle cx="1210" cy="1202.3" r="8.15"/><circle cx="1224.5" cy="1234.7" r="8.15"/><circle cx="1239.1" cy="1278.9" r="8.15"/><circle cx="1253.7" cy="1336.5" r="8.15"/><circle cx="1268.3" cy="1278.9" r="8.15"/><circle cx="1282.9" cy="1215.7" r="8.15"/><circle cx="1297.4" cy="1336.5" r="8.15"/><circle cx="1312" cy="1336.5" r="8.15"/><circle cx="1326.6" cy="1278.9" r="8.15"/><circle cx="1341.2" cy="1242.8" r="8.15"/><circle cx="1355.7" cy="1242.8" r="8.15"/><circle cx="1370.3" cy="1336.5" r="8.15"/><circle cx="1384.9" cy="1336.5" r="8.15"/><circle cx="1399.5" cy="1300.2" r="8.15"/><circle cx="1414" cy="1336.5" r="8.15"/><circle cx="1428.6" cy="1336.5" r="8.15"/><circle cx="1443.2" cy="1336.5" r="8.15"/><circle cx="1457.8" cy="1300.7" r="8.15"/><circle cx="1472.3" cy="1300.7" r="8.15"/><circle cx="1486.9" cy="1300.7" r="8.15"/><circle cx="1501.5" cy="1278.9" r="8.15"/><circle cx="1516.1" cy="1263.6" r="8.15"/><circle cx="1530.7" cy="1185.1" r="8.15"/><circle cx="1545.2" cy="1221.5" r="8.15"/><circle cx="1559.8" cy="1242.8" r="8.15"/><circle cx="1574.4" cy="1234.7" r="8.15"/><circle cx="1589" cy="1215.7" r="8.15"/><circle cx="1603.5" cy="1190.9" r="8.15"/><circle cx="1618.1" cy="1184.9" r="8.15"/><circle cx="1632.7" cy="1182.1" r="8.15"/><circle cx="1647.3" cy="1179.1" r="8.15"/><circle cx="1661.8" cy="1227.7" r="8.15"/><circle cx="1676.4" cy="1210.6" r="8.15"/><circle cx="1691" cy="1182.1" r="8.15"/><circle cx="1705.6" cy="1179.1" r="8.15"/><circle cx="1720.1" cy="1202.3" r="8.15"/></g>
<path class="bd" d="M999.25 1134H1755.95V1347.7H999.25ZM1002.85 1136.1V1344H1752.95V1136.1Z"/>
<path class="ti" d="M1035.05 1346.2V1356.8M1180.82 1346.2V1356.8M1326.58 1346.2V1356.8M1472.35 1346.2V1356.8M1618.11 1346.2V1356.8M1000.8 1157.9H989.2M1000.8 1210H989.2M1000.8 1262.1H989.2M1000.8 1314.2H989.2"/>
<text class="tk" text-anchor="middle" x="1035.1" y="1394.7">0</text><text class="tk" text-anchor="middle" x="1180.8" y="1394.7">10</text><text class="tk" text-anchor="middle" x="1326.6" y="1394.7">20</text><text class="tk" text-anchor="middle" x="1472.3" y="1394.7">30</text><text class="tk" text-anchor="middle" x="1618.1" y="1394.7">40</text>
<text class="tk" text-anchor="end" x="980.3" y="1172.5">1</text><text class="tk" text-anchor="end" x="980.3" y="1224.6">0</text><text class="tk" text-anchor="end" x="980.3" y="1276.7">-1</text><text class="tk" text-anchor="end" x="980.3" y="1328.8">-2</text>
</g>
<g id="panel9">
<text class="tt" text-anchor="middle" x="515.5" y="1474.7">Dinoflagellate (6127)</text>
<path class="ln" d="M173.8 1619.1L178.2 1605.3L182.6 1699.3L187 1699.3L191.4 1699.3L195.9 1699.3L200.3 1699.3L204.7 1642L209.1 1629.2L213.5 1629.2L218 1596.3L222.4 1605.9L226.8 1591.5L231.2 1627.1L235.6 1699.3L240.1 1608.5L244.5 1699.3L248.9 1611.2L253.3 1699.3L257.7 1699.3L262.2 1612.2L266.6 1621.8L271 1559.1L275.4 1626L279.8 1699.3L284.3 1629.2L288.7 1621.8L293.1 1699.3L297.5 1699.3L301.9 1699.3L306.4 1505.5L310.8 1609.6L315.2 1536.8L319.6 1532.6L324 1551.7L328.5 1584.6L332.9 1548L337.3 1595.8L341.7 1648.3L346.1 1699.3L350.6 1699.3L355 1677L359.4 1593.6L363.8 1699.3L368.2 1586.2L372.7 1554.9L377.1 1598.4L381.5 1563.4L385.9 1551.7L390.3 1591L394.8 1635.6L399.2 1699.3L403.6 1600L408 1578.2L412.4 1562.3L416.9 1595.8L421.3 1555.9L425.7 1529.7L430.1 1546.4L434.5 1612.8L439 1596.3L443.4 1581.4L447.8 1594.2L452.2 1699.3L456.6 1584.6L461.1 1582.5L465.5 1699.3L469.9 1574L474.3 1646.2L478.7 1643L483.2 1616.5L487.6 1699.3L492 1675.9L496.4 1632.4L500.8 1596.3L505.3 1598.4L509.7 1530.4L514.1 1538.9L518.5 1610.1L522.9 1699.3L527.3 1648.3L531.8 1648.3L536.2 1699.3L540.6 1596.3L545 1568.7L549.4 1585.7L553.9 1627.1L558.3 1699.3L562.7 1699.3L567.1 1699.3L571.5 1602.1L576 1570.3L580.4 1699.3L584.8 1699.3L589.2 1574L593.6 1589.9L598.1 1586.7L602.5 1608L606.9 1606.9L611.3 1611.2L615.7 1614.3L620.2 1699.3L624.6 1699.3L629 1677L633.4 1560.7L637.8 1620.7L642.3 1583.5L646.7 1589.9L651.1 1595.2L655.5 1591L659.9 1629.7L664.4 1699.3L668.8 1699.3L673.2 1699.3L677.6 1699.3L682 1543.2L686.5 1552.8L690.9 1637.7L695.3 1605.9L699.7 1593.6L704.1 1621.8L708.6 1631.3L713 1627.1L717.4 1699.3L721.8 1621.8L726.2 1699.3L730.7 1582.5L735.1 1596.3L739.5 1604.3L743.9 1517.7L748.3 1557L752.8 1598.4L757.2 1570.8L761.6 1583.5L766 1699.3L770.4 1591L774.9 1699.3L779.3 1699.3L783.7 1518.8L788.1 1553.8L792.5 1581.4L797 1699.3L801.4 1598.9L805.8 1637.7L810.2 1657.9L814.6 1699.3L819.1 1699.3L823.5 1699.3L827.9 1699.3L832.3 1699.3L836.7 1699.3L841.2 1546.4L845.6 1535.8L850 1627.1L854.4 1645.1L858.8 1546.4"/>
<g class="pt"><circle cx="173.8" cy="1619.1" r="8.15"/><circle cx="178.2" cy="1605.3" r="8.15"/><circle cx="182.6" cy="1699.3" r="8.15"/><circle cx="187" cy="1699.3" r="8.15"/><circle cx="191.4" cy="1699.3" r="8.15"/><circle cx="195.9" cy="1699.3" r="8.15"/><circle cx="200.3" cy="1699.3" r="8.15"/><circle cx="204.7" cy="1642" r="8.15"/><circle cx="209.1" cy="1629.2" r="8.15"/><circle cx="213.5" cy="1629.2" r="8.15"/><circle cx="218" cy="1596.3" r="8.15"/><circle cx="222.4" cy="1605.9" r="8.15"/><circle cx="226.8" cy="1591.5" r="8.15"/><circle cx="231.2" cy="1627.1" r="8.15"/><circle cx="235.6" cy="1699.3" r="8.15"/><circle cx="240.1" cy="1608.5" r="8.15"/><circle cx="244.5" cy="1699.3" r="8.15"/><circle cx="248.9" cy="1611.2" r="8.15"/><circle cx="253.3" cy="1699.3" r="8.15"/><circle cx="257.7" cy="1699.3" r="8.15"/><circle cx="262.2" cy="1612.2" r="8.15"/><circle cx="266.6" cy="1621.8" r="8.15"/><circle cx="271" cy="1559.1" r="8.15"/><circle cx="275.4" cy="1626" r="8.15"/><circle cx="279.8" cy="1699.3" r="8.15"/><circle cx="284.3" cy="1629.2" r="8.15"/><circle cx="288.7" cy="1621.8" r="8.15"/><circle cx="293.1" cy="1699.3" r="8.15"/><circle cx="297.5" cy="1699.3" r="8.15"/><circle cx="301.9" cy="1699.3" r="8.15"/><circle cx="306.4" cy="1505.5" r="8.15"/><circle cx="310.8" cy="1609.6" r="8.15"/><circle cx="315.2" cy="1536.8" r="8.15"/><circle cx="319.6" cy="1532.6" r="8.15"/><circle cx="324" cy="1551.7" r="8.15"/><circle cx="328.5" cy="1584.6" r="8.15"/><circle cx="332.9" cy="1548" r="8.15"/><circle cx="337.3" cy="1595.8" r="8.15"/><circle cx="341.7" cy="1648.3" r="8.15"/><circle cx="346.1" cy="1699.3" r="8.15"/><circle cx="350.6" cy="1699.3" r="8.15"/><circle cx="355" cy="1677" r="8.15"/><circle cx="359.4" cy="1593.6" r="8.15"/><circle cx="363.8" cy="1699.3" r="8.15"/><circle cx="368.2" cy="1586.2" r="8.15"/><circle cx="372.7" cy="1554.9" r="8.15"/><circle cx="377.1" cy="1598.4" r="8.15"/><circle cx="381.5" cy="1563.4" r="8.15"/><circle cx="385.9" cy="1551.7" r="8.15"/><circle cx="390.3" cy="1591" r="8.15"/><circle cx="394.8" cy="1635.6" r="8.15"/><circle cx="399.2" cy="1699.3" r="8.15"/><circle cx="403.6" cy="1600" r="8.15"/><circle cx="408" cy="1578.2" r="8.15"/><circle cx="412.4" cy="1562.3" r="8.15"/><circle cx="416.9" cy="1595.8" r="8.15"/><circle cx="421.3" cy="1555.9" r="8.15"/><circle cx="425.7" cy="1529.7" r="8.15"/><circle cx="430.1" cy="1546.4" r="8.15"/><circle cx="434.5" cy="1612.8" r="8.15"/><circle cx="439" cy="1596.3" r="8.15"/><circle cx="443.4" cy="1581.4" r="8.15"/><circle cx="447.8" cy="1594.2" r="8.15"/><circle cx="452.2" cy="1699.3" r="8.15"/><circle cx="456.6" cy="1584.6" r="8.15"/><circle cx="461.1" cy="1582.5" r="8.15"/><circle cx="465.5" cy="1699.3" r="8.15"/><circle cx="469.9" cy="1574" r="8.15"/><circle cx="474.3" cy="1646.2" r="8.15"/><circle cx="478.7" cy="1643" r="8.15"/><circle cx="483.2" cy="1616.5" r="8.15"/><circle cx="487.6" cy="1699.3" r="8.15"/><circle cx="492" cy="1675.9" r="8.15"/><circle cx="496.4" cy="1632.4" r="8.15"/><circle cx="500.8" cy="1596.3" r="8.15"/><circle cx="505.3" cy="1598.4" r="8.15"/><circle cx="509.7" cy="1530.4" r="8.15"/><circle cx="514.1" cy="1538.9" r="8.15"/><circle cx="518.5" cy="1610.1" r="8.15"/><circle cx="522.9" cy="1699.3" r="8.15"/><circle cx="527.3" cy="1648.3" r="8.15"/><circle cx="531.8" cy="1648.3" r="8.15"/><circle cx="536.2" cy="1699.3" r="8.15"/><circle cx="540.6" cy="1596.3" r="8.15"/><circle cx="545" cy="1568.7" r="8.15"/><circle cx="549.4" cy="1585.7" r="8.15"/><circle cx="553.9" cy="1627.1" r="8.15"/><circle cx="558.3" cy="1699.3" r="8.15"/><circle cx="562.7" cy="1699.3" r="8.15"/><circle cx="567.1" cy="1699.3" r="8.15"/><circle cx="571.5" cy="1602.1" r="8.15"/><circle cx="576" cy="1570.3" r="8.15"/><circle cx="580.4" cy="1699.3" r="8.15"/><circle cx="584.8" cy="1699.3" r="8.15"/><circle cx="589.2" cy="1574" r="8.15"/><circle cx="593.6" cy="1589.9" r="8.15"/><circle cx="598.1" cy="1586.7" r="8.15"/><circle cx="602.5" cy="1608" r="8.15"/><circle cx="606.9" cy="1606.9" r="8.15"/><circle cx="611.3" cy="1611.2" r="8.15"/><circle cx="615.7" cy="1614.3" r="8.15"/><circle cx="620.2" cy="1699.3" r="8.15"/><circle cx="624.6" cy="1699.3" r="8.15"/><circle cx="629" cy="1677" r="8.15"/><circle cx="633.4" cy="1560.7" r="8.15"/><circle cx="637.8" cy="1620.7" r="8.15"/><circle cx="642.3" cy="1583.5" r="8.15"/><circle cx="646.7" cy="1589.9" r="8.15"/><circle cx="651.1" cy="1595.2" r="8.15"/><circle cx="655.5" cy="1591" r="8.15"/><circle cx="659.9" cy="1629.7" r="8.15"/><circle cx="664.4" cy="1699.3" r="8.15"/><circle cx="668.8" cy="1699.3" r="8.15"/><circle cx="673.2" cy="1699.3" r="8.15"/><circle cx="677.6" cy="1699.3" r="8.15"/><circle cx="682" cy="1543.2" r="8.15"/><circle cx="686.5" cy="1552.8" r="8.15"/><circle cx="690.9" cy="1637.7" r="8.15"/><circle cx="695.3" cy="1605.9" r="8.15"/><circle cx="699.7" cy="1593.6" r="8.15"/><circle cx="704.1" cy="1621.8" r="8.15"/><circle cx="708.6" cy="1631.3" r="8.15"/><circle cx="713" cy="1627.1" r="8.15"/><circle cx="717.4" cy="1699.3" r="8.15"/><circle cx="721.8" cy="1621.8" r="8.15"/><circle cx="726.2" cy="1699.3" r="8.15"/><circle cx="730.7" cy="1582.5" r="8.15"/><circle cx="735.1" cy="1596.3" r="8.15"/><circle cx="739.5" cy="1604.3" r="8.15"/><circle cx="743.9" cy="1517.7" r="8.15"/><circle cx="748.3" cy="1557" r="8.15"/><circle cx="752.8" cy="1598.4" r="8.15"/><circle cx="757.2" cy="1570.8" r="8.15"/><circle cx="761.6" cy="1583.5" r="8.15"/><circle cx="766" cy="1699.3" r="8.15"/><circle cx="770.4" cy="1591" r="8.15"/><circle cx="774.9" cy="1699.3" r="8.15"/><circle cx="779.3" cy="1699.3" r="8.15"/><circle cx="783.7" cy="1518.8" r="8.15"/><circle cx="788.1" cy="1553.8" r="8.15"/><circle cx="792.5" cy="1581.4" r="8.15"/><circle cx="797" cy="1699.3" r="8.15"/><circle cx="801.4" cy="1598.9" r="8.15"/><circle cx="805.8" cy="1637.7" r="8.15"/><circle cx="810.2" cy="1657.9" r="8.15"/><circle cx="814.6" cy="1699.3" r="8.15"/><circle cx="819.1" cy="1699.3" r="8.15"/><circle cx="823.5" cy="1699.3" r="8.15"/><circle cx="827.9" cy="1699.3" r="8.15"/><circle cx="832.3" cy="1699.3" r="8.15"/><circle cx="836.7" cy="1699.3" r="8.15"/><circle cx="841.2" cy="1546.4" r="8.15"/><circle cx="845.6" cy="1535.8" r="8.15"/><circle cx="850" cy="1627.1" r="8.15"/><circle cx="854.4" cy="1645.1" r="8.15"/><circle cx="858.8" cy="1546.4" r="8.15"/></g>
<path class="bd" d="M137.4 1496H894V1710.5H137.4ZM141 1498.1V1706.8H891V1498.1Z"/>
<path class="ti" d="M173.75 1709V1719.6M394.75 1709V1719.6M615.75 1709V1719.6M836.75 1709V1719.6M139.5 1499H127.9M139.5 1552.3H127.9M139.5 1605.5H127.9M139.5 1658.6H127.9"/>
<text class="tk" text-anchor="middle" x="173.8" y="1756.7">0</text><text class="tk" text-anchor="middle" x="394.8" y="1756.7">50</text><text class="tk" text-anchor="middle" x="615.7" y="1756.7">100</text><text class="tk" text-anchor="middle" x="836.7" y="1756.7">150</text>
<text class="tk" text-anchor="end" x="119" y="1513.6">2.5</text><text class="tk" text-anchor="end" x="119" y="1566.9">0.0</text><text class="tk" text-anchor="end" x="119" y="1620.1">-2.5</text><text class="tk" text-anchor="end" x="119" y="1673.2">-5.0</text>
</g>
<g id="panel10">
<text class="tt" text-anchor="middle" x="1376.8" y="1474.7">Pennate diatom (5021)</text>
<path class="ln" d="M1035.1 1514.1L1050.6 1562.4L1066.2 1508.3L1081.8 1517.1L1097.3 1508.3L1112.9 1505.5L1128.5 1514.1L1144 1508.3L1159.6 1532.7L1175.2 1541.3M1206.3 1529.7L1221.9 1570.6L1237.5 1591.9L1253 1528L1268.6 1530.4L1284.2 1509.9L1299.7 1541.3L1315.3 1538.5L1330.9 1642.6L1346.5 1591.9L1362 1642.6L1377.6 1585.9L1393.2 1652.4L1408.7 1598.2L1424.3 1663.5L1439.9 1626.8L1455.5 1616.3L1471 1549.4L1486.6 1591.9L1502.2 1652.4L1517.7 1598.2L1533.3 1699.3M1564.4 1567.1L1580 1574.5L1595.6 1570.3L1611.2 1616.3L1626.7 1626.8L1642.3 1522.2L1657.9 1642.6L1673.4 1615.6L1689 1605.9L1704.6 1579.6L1720.1 1549.4"/>
<g class="pt"><circle cx="1035.1" cy="1514.1" r="8.15"/><circle cx="1050.6" cy="1562.4" r="8.15"/><circle cx="1066.2" cy="1508.3" r="8.15"/><circle cx="1081.8" cy="1517.1" r="8.15"/><circle cx="1097.3" cy="1508.3" r="8.15"/><circle cx="1112.9" cy="1505.5" r="8.15"/><circle cx="1128.5" cy="1514.1" r="8.15"/><circle cx="1144" cy="1508.3" r="8.15"/><circle cx="1159.6" cy="1532.7" r="8.15"/><circle cx="1175.2" cy="1541.3" r="8.15"/><circle cx="1206.3" cy="1529.7" r="8.15"/><circle cx="1221.9" cy="1570.6" r="8.15"/><circle cx="1237.5" cy="1591.9" r="8.15"/><circle cx="1253" cy="1528" r="8.15"/><circle cx="1268.6" cy="1530.4" r="8.15"/><circle cx="1284.2" cy="1509.9" r="8.15"/><circle cx="1299.7" cy="1541.3" r="8.15"/><circle cx="1315.3" cy="1538.5" r="8.15"/><circle cx="1330.9" cy="1642.6" r="8.15"/><circle cx="1346.5" cy="1591.9" r="8.15"/><circle cx="1362" cy="1642.6" r="8.15"/><circle cx="1377.6" cy="1585.9" r="8.15"/><circle cx="1393.2" cy="1652.4" r="8.15"/><circle cx="1408.7" cy="1598.2" r="8.15"/><circle cx="1424.3" cy="1663.5" r="8.15"/><circle cx="1439.9" cy="1626.8" r="8.15"/><circle cx="1455.5" cy="1616.3" r="8.15"/><circle cx="1471" cy="1549.4" r="8.15"/><circle cx="1486.6" cy="1591.9" r="8.15"/><circle cx="1502.2" cy="1652.4" r="8.15"/><circle cx="1517.7" cy="1598.2" r="8.15"/><circle cx="1533.3" cy="1699.3" r="8.15"/><circle cx="1564.4" cy="1567.1" r="8.15"/><circle cx="1580" cy="1574.5" r="8.15"/><circle cx="1595.6" cy="1570.3" r="8.15"/><circle cx="1611.2" cy="1616.3" r="8.15"/><circle cx="1626.7" cy="1626.8" r="8.15"/><circle cx="1642.3" cy="1522.2" r="8.15"/><circle cx="1657.9" cy="1642.6" r="8.15"/><circle cx="1673.4" cy="1615.6" r="8.15"/><circle cx="1689" cy="1605.9" r="8.15"/><circle cx="1704.6" cy="1579.6" r="8.15"/><circle cx="1720.1" cy="1549.4" r="8.15"/></g>
<path class="bd" d="M999.25 1496H1755.95V1710.5H999.25ZM1002.85 1498.1V1706.8H1752.95V1498.1Z"/>
<path class="ti" d="M1035.05 1709V1719.6M1190.76 1709V1719.6M1346.46 1709V1719.6M1502.16 1709V1719.6M1657.86 1709V1719.6M1000.8 1514.8H989.2M1000.8 1566.3H989.2M1000.8 1618H989.2M1000.8 1669.8H989.2"/>
<text class="tk" text-anchor="middle" x="1035.1" y="1756.7">0</text><text class="tk" text-anchor="middle" x="1190.8" y="1756.7">10</text><text class="tk" text-anchor="middle" x="1346.5" y="1756.7">20</text><text class="tk" text-anchor="middle" x="1502.2" y="1756.7">30</text><text class="tk" text-anchor="middle" x="1657.9" y="1756.7">40</text>
<text class="tk" text-anchor="end" x="980.3" y="1529.4">1</text><text class="tk" text-anchor="end" x="980.3" y="1580.9">0</text><text class="tk" text-anchor="end" x="980.3" y="1632.6">-1</text><text class="tk" text-anchor="end" x="980.3" y="1684.4">-2</text>
</g>
<g id="panel11">
<text class="tt" text-anchor="middle" x="515.5" y="1836.7">Lamellibranch larvae (6140)</text>
<path class="ln" d="M173.8 1971.6L177.9 1961.1L182 2061.5L186.1 1961.1L190.2 1998.1L194.3 1935.7L198.4 1945.2L202.5 1949.4L206.6 1939.9L210.7 1926.2L214.8 1916.7L218.9 1943.1L223 1955.8L227.1 1964.2L231.2 1986.4L235.3 1935.7L239.4 2061.5L243.5 1965.3L247.6 1971.6L251.7 1929.3L255.8 1945.2L259.9 1937.8L264 1935.7L268.1 1928.3L272.2 1948.4L276.3 1967.4L280.4 1967.4L284.5 1938.9L288.6 1936.7L292.7 1934.6L296.8 1931.5L300.9 1943.1L305 1944.1L309.1 1911.4L313.2 1930.4L317.3 1924.1L321.4 1917.7L325.5 1944.1L329.6 1898.2L333.7 1906.1L337.8 1945.2L342 1932.5L346.1 1911.4L350.2 1924.1L354.3 1915.1L358.4 1924.1L362.5 1926.2L366.6 1931.5L370.7 1928.3L374.8 1943.1L378.9 1942L383 1934.6L387.1 1923L391.2 1930.4L395.3 1953.7L399.4 1951.5L403.5 1895.5L407.6 1892.3L411.7 1899.7L415.8 1894.5L419.9 1907.1L424 1924.1L428.1 1926.2L432.2 1951.5L436.3 1909.3L440.4 1896.6L444.5 1907.1L448.6 1915.6L452.7 1886L456.8 1873.8L460.9 1896.6L465 1930.4L469.1 1936.7L473.2 1914.5L477.3 1917.7L481.4 1928.3L485.5 1909.3L489.6 1896.6L493.7 1913.5L497.8 1953.7L501.9 1950.5L506 1886L510.1 1907.1L514.2 1909.3L518.4 1925.1L522.5 1911.4L526.6 1917.7L530.7 1939.9L534.8 1919.8L538.9 1918.8L543 1952.6L547.1 1938.9L551.2 1898.7L555.3 1895.5L559.4 1891.3L563.5 1896.6L567.6 1912.4L571.7 1917.7L575.8 1867.5L579.9 1907.1L584 1962.1L588.1 1930.4L592.2 1932.5L596.3 1934.6L600.4 1909.3L604.5 1907.1L608.6 1927.2L612.7 1913.5L616.8 1908.2L620.9 1921.9L625 1909.3L629.1 1909.3L633.2 1953.7L637.3 1945.2L641.4 1951.5L645.5 1951.5L649.6 1909.3L653.7 1896.6L657.8 1875.4L661.9 1881.8L666 1888.1L670.1 1897.6L674.2 1905L678.3 1913.5L682.4 1947.3L686.5 1945.2L690.6 1915.6L694.8 1912.4L698.9 1889.2L703 1886L707.1 1883.9L711.2 1910.3L715.3 1947.8L719.4 1926.2L723.5 1891.3L727.6 1872.8L731.7 1907.1L735.8 1921.9L739.9 1979.6L744 1919.8L748.1 1896.6L752.2 1883.9L756.3 1907.1L760.4 1907.1L764.5 1926.2L768.6 1907.1L772.7 1872.8L776.8 1907.1L780.9 1967.4L785 1939.9L789.1 1935.7L793.2 1947.3L797.3 1896.6L801.4 1917.7L805.5 1913.5L809.6 1933.6L813.7 1912.4L817.8 1915.6L821.9 1917.7L826 1937.8L830.1 1931.5L834.2 1948.4L838.3 1945.2L842.4 1939.9L846.5 1918.8L850.6 1968.5L854.7 1913.5L858.8 1930.4"/>
<g class="pt"><circle cx="173.8" cy="1971.6" r="8.15"/><circle cx="177.9" cy="1961.1" r="8.15"/><circle cx="182" cy="2061.5" r="8.15"/><circle cx="186.1" cy="1961.1" r="8.15"/><circle cx="190.2" cy="1998.1" r="8.15"/><circle cx="194.3" cy="1935.7" r="8.15"/><circle cx="198.4" cy="1945.2" r="8.15"/><circle cx="202.5" cy="1949.4" r="8.15"/><circle cx="206.6" cy="1939.9" r="8.15"/><circle cx="210.7" cy="1926.2" r="8.15"/><circle cx="214.8" cy="1916.7" r="8.15"/><circle cx="218.9" cy="1943.1" r="8.15"/><circle cx="223" cy="1955.8" r="8.15"/><circle cx="227.1" cy="1964.2" r="8.15"/><circle cx="231.2" cy="1986.4" r="8.15"/><circle cx="235.3" cy="1935.7" r="8.15"/><circle cx="239.4" cy="2061.5" r="8.15"/><circle cx="243.5" cy="1965.3" r="8.15"/><circle cx="247.6" cy="1971.6" r="8.15"/><circle cx="251.7" cy="1929.3" r="8.15"/><circle cx="255.8" cy="1945.2" r="8.15"/><circle cx="259.9" cy="1937.8" r="8.15"/><circle cx="264" cy="1935.7" r="8.15"/><circle cx="268.1" cy="1928.3" r="8.15"/><circle cx="272.2" cy="1948.4" r="8.15"/><circle cx="276.3" cy="1967.4" r="8.15"/><circle cx="280.4" cy="1967.4" r="8.15"/><circle cx="284.5" cy="1938.9" r="8.15"/><circle cx="288.6" cy="1936.7" r="8.15"/><circle cx="292.7" cy="1934.6" r="8.15"/><circle cx="296.8" cy="1931.5" r="8.15"/><circle cx="300.9" cy="1943.1" r="8.15"/><circle cx="305" cy="1944.1" r="8.15"/><circle cx="309.1" cy="1911.4" r="8.15"/><circle cx="313.2" cy="1930.4" r="8.15"/><circle cx="317.3" cy="1924.1" r="8.15"/><circle cx="321.4" cy="1917.7" r="8.15"/><circle cx="325.5" cy="1944.1" r="8.15"/><circle cx="329.6" cy="1898.2" r="8.15"/><circle cx="333.7" cy="1906.1" r="8.15"/><circle cx="337.8" cy="1945.2" r="8.15"/><circle cx="342" cy="1932.5" r="8.15"/><circle cx="346.1" cy="1911.4" r="8.15"/><circle cx="350.2" cy="1924.1" r="8.15"/><circle cx="354.3" cy="1915.1" r="8.15"/><circle cx="358.4" cy="1924.1" r="8.15"/><circle cx="362.5" cy="1926.2" r="8.15"/><circle cx="366.6" cy="1931.5" r="8.15"/><circle cx="370.7" cy="1928.3" r="8.15"/><circle cx="374.8" cy="1943.1" r="8.15"/><circle cx="378.9" cy="1942" r="8.15"/><circle cx="383" cy="1934.6" r="8.15"/><circle cx="387.1" cy="1923" r="8.15"/><circle cx="391.2" cy="1930.4" r="8.15"/><circle cx="395.3" cy="1953.7" r="8.15"/><circle cx="399.4" cy="1951.5" r="8.15"/><circle cx="403.5" cy="1895.5" r="8.15"/><circle cx="407.6" cy="1892.3" r="8.15"/><circle cx="411.7" cy="1899.7" r="8.15"/><circle cx="415.8" cy="1894.5" r="8.15"/><circle cx="419.9" cy="1907.1" r="8.15"/><circle cx="424" cy="1924.1" r="8.15"/><circle cx="428.1" cy="1926.2" r="8.15"/><circle cx="432.2" cy="1951.5" r="8.15"/><circle cx="436.3" cy="1909.3" r="8.15"/><circle cx="440.4" cy="1896.6" r="8.15"/><circle cx="444.5" cy="1907.1" r="8.15"/><circle cx="448.6" cy="1915.6" r="8.15"/><circle cx="452.7" cy="1886" r="8.15"/><circle cx="456.8" cy="1873.8" r="8.15"/><circle cx="460.9" cy="1896.6" r="8.15"/><circle cx="465" cy="1930.4" r="8.15"/><circle cx="469.1" cy="1936.7" r="8.15"/><circle cx="473.2" cy="1914.5" r="8.15"/><circle cx="477.3" cy="1917.7" r="8.15"/><circle cx="481.4" cy="1928.3" r="8.15"/><circle cx="485.5" cy="1909.3" r="8.15"/><circle cx="489.6" cy="1896.6" r="8.15"/><circle cx="493.7" cy="1913.5" r="8.15"/><circle cx="497.8" cy="1953.7" r="8.15"/><circle cx="501.9" cy="1950.5" r="8.15"/><circle cx="506" cy="1886" r="8.15"/><circle cx="510.1" cy="1907.1" r="8.15"/><circle cx="514.2" cy="1909.3" r="8.15"/><circle cx="518.4" cy="1925.1" r="8.15"/><circle cx="522.5" cy="1911.4" r="8.15"/><circle cx="526.6" cy="1917.7" r="8.15"/><circle cx="530.7" cy="1939.9" r="8.15"/><circle cx="534.8" cy="1919.8" r="8.15"/><circle cx="538.9" cy="1918.8" r="8.15"/><circle cx="543" cy="1952.6" r="8.15"/><circle cx="547.1" cy="1938.9" r="8.15"/><circle cx="551.2" cy="1898.7" r="8.15"/><circle cx="555.3" cy="1895.5" r="8.15"/><circle cx="559.4" cy="1891.3" r="8.15"/><circle cx="563.5" cy="1896.6" r="8.15"/><circle cx="567.6" cy="1912.4" r="8.15"/><circle cx="571.7" cy="1917.7" r="8.15"/><circle cx="575.8" cy="1867.5" r="8.15"/><circle cx="579.9" cy="1907.1" r="8.15"/><circle cx="584" cy="1962.1" r="8.15"/><circle cx="588.1" cy="1930.4" r="8.15"/><circle cx="592.2" cy="1932.5" r="8.15"/><circle cx="596.3" cy="1934.6" r="8.15"/><circle cx="600.4" cy="1909.3" r="8.15"/><circle cx="604.5" cy="1907.1" r="8.15"/><circle cx="608.6" cy="1927.2" r="8.15"/><circle cx="612.7" cy="1913.5" r="8.15"/><circle cx="616.8" cy="1908.2" r="8.15"/><circle cx="620.9" cy="1921.9" r="8.15"/><circle cx="625" cy="1909.3" r="8.15"/><circle cx="629.1" cy="1909.3" r="8.15"/><circle cx="633.2" cy="1953.7" r="8.15"/><circle cx="637.3" cy="1945.2" r="8.15"/><circle cx="641.4" cy="1951.5" r="8.15"/><circle cx="645.5" cy="1951.5" r="8.15"/><circle cx="649.6" cy="1909.3" r="8.15"/><circle cx="653.7" cy="1896.6" r="8.15"/><circle cx="657.8" cy="1875.4" r="8.15"/><circle cx="661.9" cy="1881.8" r="8.15"/><circle cx="666" cy="1888.1" r="8.15"/><circle cx="670.1" cy="1897.6" r="8.15"/><circle cx="674.2" cy="1905" r="8.15"/><circle cx="678.3" cy="1913.5" r="8.15"/><circle cx="682.4" cy="1947.3" r="8.15"/><circle cx="686.5" cy="1945.2" r="8.15"/><circle cx="690.6" cy="1915.6" r="8.15"/><circle cx="694.8" cy="1912.4" r="8.15"/><circle cx="698.9" cy="1889.2" r="8.15"/><circle cx="703" cy="1886" r="8.15"/><circle cx="707.1" cy="1883.9" r="8.15"/><circle cx="711.2" cy="1910.3" r="8.15"/><circle cx="715.3" cy="1947.8" r="8.15"/><circle cx="719.4" cy="1926.2" r="8.15"/><circle cx="723.5" cy="1891.3" r="8.15"/><circle cx="727.6" cy="1872.8" r="8.15"/><circle cx="731.7" cy="1907.1" r="8.15"/><circle cx="735.8" cy="1921.9" r="8.15"/><circle cx="739.9" cy="1979.6" r="8.15"/><circle cx="744" cy="1919.8" r="8.15"/><circle cx="748.1" cy="1896.6" r="8.15"/><circle cx="752.2" cy="1883.9" r="8.15"/><circle cx="756.3" cy="1907.1" r="8.15"/><circle cx="760.4" cy="1907.1" r="8.15"/><circle cx="764.5" cy="1926.2" r="8.15"/><circle cx="768.6" cy="1907.1" r="8.15"/><circle cx="772.7" cy="1872.8" r="8.15"/><circle cx="776.8" cy="1907.1" r="8.15"/><circle cx="780.9" cy="1967.4" r="8.15"/><circle cx="785" cy="1939.9" r="8.15"/><circle cx="789.1" cy="1935.7" r="8.15"/><circle cx="793.2" cy="1947.3" r="8.15"/><circle cx="797.3" cy="1896.6" r="8.15"/><circle cx="801.4" cy="1917.7" r="8.15"/><circle cx="805.5" cy="1913.5" r="8.15"/><circle cx="809.6" cy="1933.6" r="8.15"/><circle cx="813.7" cy="1912.4" r="8.15"/><circle cx="817.8" cy="1915.6" r="8.15"/><circle cx="821.9" cy="1917.7" r="8.15"/><circle cx="826" cy="1937.8" r="8.15"/><circle cx="830.1" cy="1931.5" r="8.15"/><circle cx="834.2" cy="1948.4" r="8.15"/><circle cx="838.3" cy="1945.2" r="8.15"/><circle cx="842.4" cy="1939.9" r="8.15"/><circle cx="846.5" cy="1918.8" r="8.15"/><circle cx="850.6" cy="1968.5" r="8.15"/><circle cx="854.7" cy="1913.5" r="8.15"/><circle cx="858.8" cy="1930.4" r="8.15"/></g>
<path class="bd" d="M137.4 1858H894V2072.7H137.4ZM141 1860.1V2069H891V1860.1Z"/>
<path class="ti" d="M173.75 2071.2V2081.8M378.87 2071.2V2081.8M583.99 2071.2V2081.8M789.11 2071.2V2081.8M139.5 1905.2H127.9M139.5 1953.4H127.9M139.5 2001.6H127.9M139.5 2049.8H127.9"/>
<text class="tk" text-anchor="middle" x="173.8" y="2118.7">0</text><text class="tk" text-anchor="middle" x="378.9" y="2118.7">50</text><text class="tk" text-anchor="middle" x="584" y="2118.7">100</text><text class="tk" text-anchor="middle" x="789.1" y="2118.7">150</text>
<text class="tk" text-anchor="end" x="119" y="1919.8">0.0</text><text class="tk" text-anchor="end" x="119" y="1968">-2.5</text><text class="tk" text-anchor="end" x="119" y="2016.2">-5.0</text><text class="tk" text-anchor="end" x="119" y="2064.4">-7.5</text>
</g>
<g id="panel12">
<text class="tt" text-anchor="middle" x="1376.8" y="1836.7">Snail larvae (6141)</text>
<path class="ln" d="M1035.1 1969L1039.2 1942L1043.3 2061.5L1047.4 1953.7L1051.5 1912.4L1055.6 1921.9L1059.7 1961.1L1063.8 1941L1067.9 1915.6L1072 1934.6L1076.1 1926.2L1080.2 1955.8L1084.3 1962.1L1088.4 1953.7L1092.5 1930.4L1096.6 1943.1L1100.7 2061.5L1104.8 1961.1L1108.9 2061.5L1113 1951.5L1117.1 1937.8L1121.2 1989.6L1125.3 1968.5L1129.4 1945.2L1133.5 1942L1137.6 1955.8L1141.7 1958.9L1145.8 1961.1L1149.9 1939.9L1154 1916.7L1158.1 1923L1162.2 1924.1L1166.3 1933.6L1170.4 1891.3L1174.5 1915.6L1178.6 1895.5L1182.7 1905L1186.8 1915.6L1190.9 1902.9L1195 1918.8L1199.1 1919.8L1203.3 1909.3L1207.4 1894.5L1211.5 1900.8L1215.6 1923L1219.7 1887.1L1223.8 1888.1L1227.9 1924.1L1232 1923L1236.1 1907.1L1240.2 1898.7L1244.3 1950.5L1248.4 1924.1L1252.5 1913.5L1256.6 1887.1L1260.7 1909.3L1264.8 1917.7L1268.9 1909.3L1273 1887.1L1277.1 1888.1L1281.2 1926.2L1285.3 1919.8L1289.4 1913.5L1293.5 1974.8L1297.6 1987.5L1301.7 2061.5L1305.8 1900.8L1309.9 1894.5L1314 1880.7L1318.1 1879.7L1322.2 1872.8L1326.3 1915.6L1330.4 1905L1334.5 1902.9L1338.6 1887.1L1342.7 1934.6L1346.8 1945.2L1350.9 1929.3L1355 1908.2L1359.1 1945.2L1363.2 1979L1367.3 1902.9L1371.4 1892.3L1375.5 1915.6L1379.7 1890.2L1383.8 1879.7L1387.9 1897.6L1392 1930.4L1396.1 1913.5L1400.2 1910.3L1404.3 1941L1408.4 1915.6L1412.5 1897.6L1416.6 1900.8L1420.7 1867.5L1424.8 1902.9L1428.9 1915.6L1433 1909.3L1437.1 1909.3L1441.2 1929.3L1445.3 1956.3L1449.4 1896.6L1453.5 1926.2L1457.6 1915.6L1461.7 1913.5L1465.8 1887.1L1469.9 1939.9L1474 1907.1L1478.1 1924.1L1482.2 1891.3L1486.3 1915.6L1490.4 1938.9L1494.5 1917.7L1498.6 1876L1502.7 1900.8L1506.8 1924.1L1510.9 1900.8L1515 1907.1L1519.1 1900.8L1523.2 1889.2L1527.3 1892.3L1531.4 1937.8L1535.5 1924.1L1539.6 1907.1L1543.7 1931.5L1547.8 1896.6L1551.9 1911.4L1556.1 1879.7L1560.2 1878.6L1564.3 1892.3L1568.4 1878.6L1572.5 1933.6L1576.6 1953.1L1580.7 1911.4L1584.8 1889.2L1588.9 1926.2L1593 1942L1597.1 1909.3L1601.2 1950.5L1605.3 1898.7L1609.4 1896.6L1613.5 1887.1L1617.6 1881.8L1621.7 1875.4L1625.8 1904L1629.9 1919.8L1634 1926.2L1638.1 1961.6L1642.2 1941L1646.3 1917.7L1650.4 1917.7L1654.5 1917.7L1658.6 1924.1L1662.7 1932.5L1666.8 1921.9L1670.9 1917.7L1675 1890.2L1679.1 1892.3L1683.2 1907.1L1687.3 1934.6L1691.4 1971.6L1695.5 1924.1L1699.6 1919.8L1703.7 1921.9L1707.8 1892.3L1711.9 1945.2L1716 1900.8L1720.1 1923"/>
<g class="pt"><circle cx="1035.1" cy="1969" r="8.15"/><circle cx="1039.2" cy="1942" r="8.15"/><circle cx="1043.3" cy="2061.5" r="8.15"/><circle cx="1047.4" cy="1953.7" r="8.15"/><circle cx="1051.5" cy="1912.4" r="8.15"/><circle cx="1055.6" cy="1921.9" r="8.15"/><circle cx="1059.7" cy="1961.1" r="8.15"/><circle cx="1063.8" cy="1941" r="8.15"/><circle cx="1067.9" cy="1915.6" r="8.15"/><circle cx="1072" cy="1934.6" r="8.15"/><circle cx="1076.1" cy="1926.2" r="8.15"/><circle cx="1080.2" cy="1955.8" r="8.15"/><circle cx="1084.3" cy="1962.1" r="8.15"/><circle cx="1088.4" cy="1953.7" r="8.15"/><circle cx="1092.5" cy="1930.4" r="8.15"/><circle cx="1096.6" cy="1943.1" r="8.15"/><circle cx="1100.7" cy="2061.5" r="8.15"/><circle cx="1104.8" cy="1961.1" r="8.15"/><circle cx="1108.9" cy="2061.5" r="8.15"/><circle cx="1113" cy="1951.5" r="8.15"/><circle cx="1117.1" cy="1937.8" r="8.15"/><circle cx="1121.2" cy="1989.6" r="8.15"/><circle cx="1125.3" cy="1968.5" r="8.15"/><circle cx="1129.4" cy="1945.2" r="8.15"/><circle cx="1133.5" cy="1942" r="8.15"/><circle cx="1137.6" cy="1955.8" r="8.15"/><circle cx="1141.7" cy="1958.9" r="8.15"/><circle cx="1145.8" cy="1961.1" r="8.15"/><circle cx="1149.9" cy="1939.9" r="8.15"/><circle cx="1154" cy="1916.7" r="8.15"/><circle cx="1158.1" cy="1923" r="8.15"/><circle cx="1162.2" cy="1924.1" r="8.15"/><circle cx="1166.3" cy="1933.6" r="8.15"/><circle cx="1170.4" cy="1891.3" r="8.15"/><circle cx="1174.5" cy="1915.6" r="8.15"/><circle cx="1178.6" cy="1895.5" r="8.15"/><circle cx="1182.7" cy="1905" r="8.15"/><circle cx="1186.8" cy="1915.6" r="8.15"/><circle cx="1190.9" cy="1902.9" r="8.15"/><circle cx="1195" cy="1918.8" r="8.15"/><circle cx="1199.1" cy="1919.8" r="8.15"/><circle cx="1203.3" cy="1909.3" r="8.15"/><circle cx="1207.4" cy="1894.5" r="8.15"/><circle cx="1211.5" cy="1900.8" r="8.15"/><circle cx="1215.6" cy="1923" r="8.15"/><circle cx="1219.7" cy="1887.1" r="8.15"/><circle cx="1223.8" cy="1888.1" r="8.15"/><circle cx="1227.9" cy="1924.1" r="8.15"/><circle cx="1232" cy="1923" r="8.15"/><circle cx="1236.1" cy="1907.1" r="8.15"/><circle cx="1240.2" cy="1898.7" r="8.15"/><circle cx="1244.3" cy="1950.5" r="8.15"/><circle cx="1248.4" cy="1924.1" r="8.15"/><circle cx="1252.5" cy="1913.5" r="8.15"/><circle cx="1256.6" cy="1887.1" r="8.15"/><circle cx="1260.7" cy="1909.3" r="8.15"/><circle cx="1264.8" cy="1917.7" r="8.15"/><circle cx="1268.9" cy="1909.3" r="8.15"/><circle cx="1273" cy="1887.1" r="8.15"/><circle cx="1277.1" cy="1888.1" r="8.15"/><circle cx="1281.2" cy="1926.2" r="8.15"/><circle cx="1285.3" cy="1919.8" r="8.15"/><circle cx="1289.4" cy="1913.5" r="8.15"/><circle cx="1293.5" cy="1974.8" r="8.15"/><circle cx="1297.6" cy="1987.5" r="8.15"/><circle cx="1301.7" cy="2061.5" r="8.15"/><circle cx="1305.8" cy="1900.8" r="8.15"/><circle cx="1309.9" cy="1894.5" r="8.15"/><circle cx="1314" cy="1880.7" r="8.15"/><circle cx="1318.1" cy="1879.7" r="8.15"/><circle cx="1322.2" cy="1872.8" r="8.15"/><circle cx="1326.3" cy="1915.6" r="8.15"/><circle cx="1330.4" cy="1905" r="8.15"/><circle cx="1334.5" cy="1902.9" r="8.15"/><circle cx="1338.6" cy="1887.1" r="8.15"/><circle cx="1342.7" cy="1934.6" r="8.15"/><circle cx="1346.8" cy="1945.2" r="8.15"/><circle cx="1350.9" cy="1929.3" r="8.15"/><circle cx="1355" cy="1908.2" r="8.15"/><circle cx="1359.1" cy="1945.2" r="8.15"/><circle cx="1363.2" cy="1979" r="8.15"/><circle cx="1367.3" cy="1902.9" r="8.15"/><circle cx="1371.4" cy="1892.3" r="8.15"/><circle cx="1375.5" cy="1915.6" r="8.15"/><circle cx="1379.7" cy="1890.2" r="8.15"/><circle cx="1383.8" cy="1879.7" r="8.15"/><circle cx="1387.9" cy="1897.6" r="8.15"/><circle cx="1392" cy="1930.4" r="8.15"/><circle cx="1396.1" cy="1913.5" r="8.15"/><circle cx="1400.2" cy="1910.3" r="8.15"/><circle cx="1404.3" cy="1941" r="8.15"/><circle cx="1408.4" cy="1915.6" r="8.15"/><circle cx="1412.5" cy="1897.6" r="8.15"/><circle cx="1416.6" cy="1900.8" r="8.15"/><circle cx="1420.7" cy="1867.5" r="8.15"/><circle cx="1424.8" cy="1902.9" r="8.15"/><circle cx="1428.9" cy="1915.6" r="8.15"/><circle cx="1433" cy="1909.3" r="8.15"/><circle cx="1437.1" cy="1909.3" r="8.15"/><circle cx="1441.2" cy="1929.3" r="8.15"/><circle cx="1445.3" cy="1956.3" r="8.15"/><circle cx="1449.4" cy="1896.6" r="8.15"/><circle cx="1453.5" cy="1926.2" r="8.15"/><circle cx="1457.6" cy="1915.6" r="8.15"/><circle cx="1461.7" cy="1913.5" r="8.15"/><circle cx="1465.8" cy="1887.1" r="8.15"/><circle cx="1469.9" cy="1939.9" r="8.15"/><circle cx="1474" cy="1907.1" r="8.15"/><circle cx="1478.1" cy="1924.1" r="8.15"/><circle cx="1482.2" cy="1891.3" r="8.15"/><circle cx="1486.3" cy="1915.6" r="8.15"/><circle cx="1490.4" cy="1938.9" r="8.15"/><circle cx="1494.5" cy="1917.7" r="8.15"/><circle cx="1498.6" cy="1876" r="8.15"/><circle cx="1502.7" cy="1900.8" r="8.15"/><circle cx="1506.8" cy="1924.1" r="8.15"/><circle cx="1510.9" cy="1900.8" r="8.15"/><circle cx="1515" cy="1907.1" r="8.15"/><circle cx="1519.1" cy="1900.8" r="8.15"/><circle cx="1523.2" cy="1889.2" r="8.15"/><circle cx="1527.3" cy="1892.3" r="8.15"/><circle cx="1531.4" cy="1937.8" r="8.15"/><circle cx="1535.5" cy="1924.1" r="8.15"/><circle cx="1539.6" cy="1907.1" r="8.15"/><circle cx="1543.7" cy="1931.5" r="8.15"/><circle cx="1547.8" cy="1896.6" r="8.15"/><circle cx="1551.9" cy="1911.4" r="8.15"/><circle cx="1556.1" cy="1879.7" r="8.15"/><circle cx="1560.2" cy="1878.6" r="8.15"/><circle cx="1564.3" cy="1892.3" r="8.15"/><circle cx="1568.4" cy="1878.6" r="8.15"/><circle cx="1572.5" cy="1933.6" r="8.15"/><circle cx="1576.6" cy="1953.1" r="8.15"/><circle cx="1580.7" cy="1911.4" r="8.15"/><circle cx="1584.8" cy="1889.2" r="8.15"/><circle cx="1588.9" cy="1926.2" r="8.15"/><circle cx="1593" cy="1942" r="8.15"/><circle cx="1597.1" cy="1909.3" r="8.15"/><circle cx="1601.2" cy="1950.5" r="8.15"/><circle cx="1605.3" cy="1898.7" r="8.15"/><circle cx="1609.4" cy="1896.6" r="8.15"/><circle cx="1613.5" cy="1887.1" r="8.15"/><circle cx="1617.6" cy="1881.8" r="8.15"/><circle cx="1621.7" cy="1875.4" r="8.15"/><circle cx="1625.8" cy="1904" r="8.15"/><circle cx="1629.9" cy="1919.8" r="8.15"/><circle cx="1634" cy="1926.2" r="8.15"/><circle cx="1638.1" cy="1961.6" r="8.15"/><circle cx="1642.2" cy="1941" r="8.15"/><circle cx="1646.3" cy="1917.7" r="8.15"/><circle cx="1650.4" cy="1917.7" r="8.15"/><circle cx="1654.5" cy="1917.7" r="8.15"/><circle cx="1658.6" cy="1924.1" r="8.15"/><circle cx="1662.7" cy="1932.5" r="8.15"/><circle cx="1666.8" cy="1921.9" r="8.15"/><circle cx="1670.9" cy="1917.7" r="8.15"/><circle cx="1675" cy="1890.2" r="8.15"/><circle cx="1679.1" cy="1892.3" r="8.15"/><circle cx="1683.2" cy="1907.1" r="8.15"/><circle cx="1687.3" cy="1934.6" r="8.15"/><circle cx="1691.4" cy="1971.6" r="8.15"/><circle cx="1695.5" cy="1924.1" r="8.15"/><circle cx="1699.6" cy="1919.8" r="8.15"/><circle cx="1703.7" cy="1921.9" r="8.15"/><circle cx="1707.8" cy="1892.3" r="8.15"/><circle cx="1711.9" cy="1945.2" r="8.15"/><circle cx="1716" cy="1900.8" r="8.15"/><circle cx="1720.1" cy="1923" r="8.15"/></g>
<path class="bd" d="M999.25 1858H1755.95V2072.7H999.25ZM1002.85 1860.1V2069H1752.95V1860.1Z"/>
<path class="ti" d="M1035.05 2071.2V2081.8M1240.17 2071.2V2081.8M1445.29 2071.2V2081.8M1650.41 2071.2V2081.8M1000.8 1908.9H989.2M1000.8 1968.1H989.2M1000.8 2027.3H989.2"/>
<text class="tk" text-anchor="middle" x="1035.1" y="2118.7">0</text><text class="tk" text-anchor="middle" x="1240.2" y="2118.7">50</text><text class="tk" text-anchor="middle" x="1445.3" y="2118.7">100</text><text class="tk" text-anchor="middle" x="1650.4" y="2118.7">150</text>
<text class="tk" text-anchor="end" x="980.3" y="1923.5">0.0</text><text class="tk" text-anchor="end" x="980.3" y="1982.7">-2.5</text><text class="tk" text-anchor="end" x="980.3" y="2041.9">-5.0</text>
</g>
<text class="ax" text-anchor="middle" x="946.85" y="2172.1">Timestep</text>
<text class="ax" text-anchor="middle" transform="translate(34.3 1058.75) rotate(-90)">log Scaled Abundance</text>
</svg>
</body></html>
